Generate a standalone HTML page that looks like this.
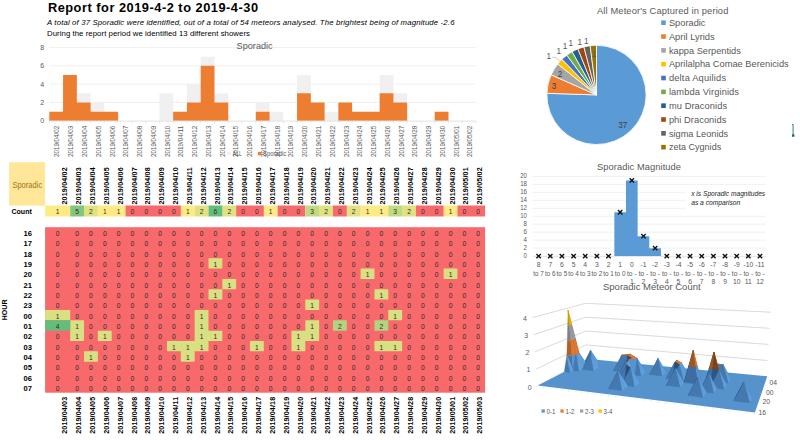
<!DOCTYPE html>
<html><head><meta charset="utf-8"><title>Report</title>
<style>
html,body{margin:0;padding:0;background:#fff;width:800px;height:440px;overflow:hidden}
svg{display:block;font-family:"Liberation Sans", sans-serif}
</style></head><body>
<svg width="800" height="440" viewBox="0 0 800 440">
<text x="47.90" y="11.80" font-size="12.8" fill="#000" font-weight="bold" textLength="210.10" lengthAdjust="spacing">Report for 2019-4-2 to 2019-4-30</text>
<text x="47.00" y="24.70" font-size="7.8" fill="#000" font-style="italic" textLength="407.50" lengthAdjust="spacing">A total of 37 Sporadic were identified, out of a total of 54 meteors analysed. The brightest being of magnitude -2.6</text>
<text x="47.00" y="35.60" font-size="7.8" fill="#000" textLength="203.00" lengthAdjust="spacing">During the report period we identified 13 different showers</text>
<line x1="49.30" y1="102.48" x2="476.00" y2="102.48" stroke="#ececec" stroke-width="0.8"/>
<line x1="49.30" y1="84.16" x2="476.00" y2="84.16" stroke="#ececec" stroke-width="0.8"/>
<line x1="49.30" y1="65.84" x2="476.00" y2="65.84" stroke="#ececec" stroke-width="0.8"/>
<line x1="49.30" y1="47.52" x2="476.00" y2="47.52" stroke="#ececec" stroke-width="0.8"/>
<path d="M49.30,111.64h13.76v9.16h-13.76zM63.06,75.00h13.76v45.80h-13.76zM76.83,93.32h13.76v27.48h-13.76zM90.59,102.48h13.76v18.32h-13.76zM104.36,111.64h13.76v9.16h-13.76zM159.42,93.32h13.76v27.48h-13.76zM173.18,111.64h13.76v9.16h-13.76zM186.95,84.16h13.76v36.64h-13.76zM200.71,56.68h13.76v64.12h-13.76zM214.47,93.32h13.76v27.48h-13.76zM255.77,102.48h13.76v18.32h-13.76zM269.53,111.64h13.76v9.16h-13.76zM297.06,75.00h13.76v45.80h-13.76zM310.83,102.48h13.76v18.32h-13.76zM324.59,111.64h13.76v9.16h-13.76zM338.35,102.48h13.76v18.32h-13.76zM352.12,111.64h13.76v9.16h-13.76zM365.88,111.64h13.76v9.16h-13.76zM379.65,75.00h13.76v45.80h-13.76zM393.41,93.32h13.76v27.48h-13.76zM434.71,111.64h13.76v9.16h-13.76z" fill="#f0f0f0"/>
<path d="M49.30,111.64h13.76v9.16h-13.76zM63.06,75.00h13.76v45.80h-13.76zM76.83,102.48h13.76v18.32h-13.76zM90.59,111.64h13.76v9.16h-13.76zM104.36,111.64h13.76v9.16h-13.76zM173.18,111.64h13.76v9.16h-13.76zM186.95,102.48h13.76v18.32h-13.76zM200.71,65.84h13.76v54.96h-13.76zM214.47,102.48h13.76v18.32h-13.76zM255.77,111.64h13.76v9.16h-13.76zM297.06,93.32h13.76v27.48h-13.76zM310.83,102.48h13.76v18.32h-13.76zM338.35,102.48h13.76v18.32h-13.76zM352.12,111.64h13.76v9.16h-13.76zM365.88,111.64h13.76v9.16h-13.76zM379.65,93.32h13.76v27.48h-13.76zM393.41,102.48h13.76v18.32h-13.76zM434.71,111.64h13.76v9.16h-13.76z" fill="#ed7d31"/>
<line x1="49.30" y1="121.10" x2="476.00" y2="121.10" stroke="#d9d9d9" stroke-width="0.8"/>
<line x1="476.00" y1="121.10" x2="476.00" y2="123.40" stroke="#d9d9d9" stroke-width="0.6"/>
<text x="44.20" y="123.30" font-size="7" fill="#595959" text-anchor="end">0</text>
<text x="44.20" y="104.98" font-size="7" fill="#595959" text-anchor="end">2</text>
<text x="44.20" y="86.66" font-size="7" fill="#595959" text-anchor="end">4</text>
<text x="44.20" y="68.34" font-size="7" fill="#595959" text-anchor="end">6</text>
<text x="44.20" y="50.02" font-size="7" fill="#595959" text-anchor="end">8</text>
<line x1="49.30" y1="121.10" x2="49.30" y2="123.40" stroke="#d9d9d9" stroke-width="0.6"/>
<text x="59.48" y="157.00" font-size="6.5" fill="#595959" textLength="31.20" lengthAdjust="spacingAndGlyphs" transform="rotate(-90 59.48 157.00)">2019/04/02</text>
<line x1="63.06" y1="121.10" x2="63.06" y2="123.40" stroke="#d9d9d9" stroke-width="0.6"/>
<text x="73.25" y="157.00" font-size="6.5" fill="#595959" textLength="31.20" lengthAdjust="spacingAndGlyphs" transform="rotate(-90 73.25 157.00)">2019/04/03</text>
<line x1="76.83" y1="121.10" x2="76.83" y2="123.40" stroke="#d9d9d9" stroke-width="0.6"/>
<text x="87.01" y="157.00" font-size="6.5" fill="#595959" textLength="31.20" lengthAdjust="spacingAndGlyphs" transform="rotate(-90 87.01 157.00)">2019/04/04</text>
<line x1="90.59" y1="121.10" x2="90.59" y2="123.40" stroke="#d9d9d9" stroke-width="0.6"/>
<text x="100.78" y="157.00" font-size="6.5" fill="#595959" textLength="31.20" lengthAdjust="spacingAndGlyphs" transform="rotate(-90 100.78 157.00)">2019/04/05</text>
<line x1="104.36" y1="121.10" x2="104.36" y2="123.40" stroke="#d9d9d9" stroke-width="0.6"/>
<text x="114.54" y="157.00" font-size="6.5" fill="#595959" textLength="31.20" lengthAdjust="spacingAndGlyphs" transform="rotate(-90 114.54 157.00)">2019/04/06</text>
<line x1="118.12" y1="121.10" x2="118.12" y2="123.40" stroke="#d9d9d9" stroke-width="0.6"/>
<text x="128.30" y="157.00" font-size="6.5" fill="#595959" textLength="31.20" lengthAdjust="spacingAndGlyphs" transform="rotate(-90 128.30 157.00)">2019/04/07</text>
<line x1="131.89" y1="121.10" x2="131.89" y2="123.40" stroke="#d9d9d9" stroke-width="0.6"/>
<text x="142.07" y="157.00" font-size="6.5" fill="#595959" textLength="31.20" lengthAdjust="spacingAndGlyphs" transform="rotate(-90 142.07 157.00)">2019/04/08</text>
<line x1="145.65" y1="121.10" x2="145.65" y2="123.40" stroke="#d9d9d9" stroke-width="0.6"/>
<text x="155.83" y="157.00" font-size="6.5" fill="#595959" textLength="31.20" lengthAdjust="spacingAndGlyphs" transform="rotate(-90 155.83 157.00)">2019/04/09</text>
<line x1="159.42" y1="121.10" x2="159.42" y2="123.40" stroke="#d9d9d9" stroke-width="0.6"/>
<text x="169.60" y="157.00" font-size="6.5" fill="#595959" textLength="31.20" lengthAdjust="spacingAndGlyphs" transform="rotate(-90 169.60 157.00)">2019/04/10</text>
<line x1="173.18" y1="121.10" x2="173.18" y2="123.40" stroke="#d9d9d9" stroke-width="0.6"/>
<text x="183.36" y="157.00" font-size="6.5" fill="#595959" textLength="31.20" lengthAdjust="spacingAndGlyphs" transform="rotate(-90 183.36 157.00)">2019/04/11</text>
<line x1="186.95" y1="121.10" x2="186.95" y2="123.40" stroke="#d9d9d9" stroke-width="0.6"/>
<text x="197.13" y="157.00" font-size="6.5" fill="#595959" textLength="31.20" lengthAdjust="spacingAndGlyphs" transform="rotate(-90 197.13 157.00)">2019/04/12</text>
<line x1="200.71" y1="121.10" x2="200.71" y2="123.40" stroke="#d9d9d9" stroke-width="0.6"/>
<text x="210.89" y="157.00" font-size="6.5" fill="#595959" textLength="31.20" lengthAdjust="spacingAndGlyphs" transform="rotate(-90 210.89 157.00)">2019/04/13</text>
<line x1="214.47" y1="121.10" x2="214.47" y2="123.40" stroke="#d9d9d9" stroke-width="0.6"/>
<text x="224.66" y="157.00" font-size="6.5" fill="#595959" textLength="31.20" lengthAdjust="spacingAndGlyphs" transform="rotate(-90 224.66 157.00)">2019/04/14</text>
<line x1="228.24" y1="121.10" x2="228.24" y2="123.40" stroke="#d9d9d9" stroke-width="0.6"/>
<text x="238.42" y="157.00" font-size="6.5" fill="#595959" textLength="31.20" lengthAdjust="spacingAndGlyphs" transform="rotate(-90 238.42 157.00)">2019/04/15</text>
<line x1="242.00" y1="121.10" x2="242.00" y2="123.40" stroke="#d9d9d9" stroke-width="0.6"/>
<text x="252.19" y="157.00" font-size="6.5" fill="#595959" textLength="31.20" lengthAdjust="spacingAndGlyphs" transform="rotate(-90 252.19 157.00)">2019/04/16</text>
<line x1="255.77" y1="121.10" x2="255.77" y2="123.40" stroke="#d9d9d9" stroke-width="0.6"/>
<text x="265.95" y="157.00" font-size="6.5" fill="#595959" textLength="31.20" lengthAdjust="spacingAndGlyphs" transform="rotate(-90 265.95 157.00)">2019/04/17</text>
<line x1="269.53" y1="121.10" x2="269.53" y2="123.40" stroke="#d9d9d9" stroke-width="0.6"/>
<text x="279.71" y="157.00" font-size="6.5" fill="#595959" textLength="31.20" lengthAdjust="spacingAndGlyphs" transform="rotate(-90 279.71 157.00)">2019/04/18</text>
<line x1="283.30" y1="121.10" x2="283.30" y2="123.40" stroke="#d9d9d9" stroke-width="0.6"/>
<text x="293.48" y="157.00" font-size="6.5" fill="#595959" textLength="31.20" lengthAdjust="spacingAndGlyphs" transform="rotate(-90 293.48 157.00)">2019/04/19</text>
<line x1="297.06" y1="121.10" x2="297.06" y2="123.40" stroke="#d9d9d9" stroke-width="0.6"/>
<text x="307.24" y="157.00" font-size="6.5" fill="#595959" textLength="31.20" lengthAdjust="spacingAndGlyphs" transform="rotate(-90 307.24 157.00)">2019/04/20</text>
<line x1="310.83" y1="121.10" x2="310.83" y2="123.40" stroke="#d9d9d9" stroke-width="0.6"/>
<text x="321.01" y="157.00" font-size="6.5" fill="#595959" textLength="31.20" lengthAdjust="spacingAndGlyphs" transform="rotate(-90 321.01 157.00)">2019/04/21</text>
<line x1="324.59" y1="121.10" x2="324.59" y2="123.40" stroke="#d9d9d9" stroke-width="0.6"/>
<text x="334.77" y="157.00" font-size="6.5" fill="#595959" textLength="31.20" lengthAdjust="spacingAndGlyphs" transform="rotate(-90 334.77 157.00)">2019/04/22</text>
<line x1="338.35" y1="121.10" x2="338.35" y2="123.40" stroke="#d9d9d9" stroke-width="0.6"/>
<text x="348.54" y="157.00" font-size="6.5" fill="#595959" textLength="31.20" lengthAdjust="spacingAndGlyphs" transform="rotate(-90 348.54 157.00)">2019/04/23</text>
<line x1="352.12" y1="121.10" x2="352.12" y2="123.40" stroke="#d9d9d9" stroke-width="0.6"/>
<text x="362.30" y="157.00" font-size="6.5" fill="#595959" textLength="31.20" lengthAdjust="spacingAndGlyphs" transform="rotate(-90 362.30 157.00)">2019/04/24</text>
<line x1="365.88" y1="121.10" x2="365.88" y2="123.40" stroke="#d9d9d9" stroke-width="0.6"/>
<text x="376.07" y="157.00" font-size="6.5" fill="#595959" textLength="31.20" lengthAdjust="spacingAndGlyphs" transform="rotate(-90 376.07 157.00)">2019/04/25</text>
<line x1="379.65" y1="121.10" x2="379.65" y2="123.40" stroke="#d9d9d9" stroke-width="0.6"/>
<text x="389.83" y="157.00" font-size="6.5" fill="#595959" textLength="31.20" lengthAdjust="spacingAndGlyphs" transform="rotate(-90 389.83 157.00)">2019/04/26</text>
<line x1="393.41" y1="121.10" x2="393.41" y2="123.40" stroke="#d9d9d9" stroke-width="0.6"/>
<text x="403.60" y="157.00" font-size="6.5" fill="#595959" textLength="31.20" lengthAdjust="spacingAndGlyphs" transform="rotate(-90 403.60 157.00)">2019/04/27</text>
<line x1="407.18" y1="121.10" x2="407.18" y2="123.40" stroke="#d9d9d9" stroke-width="0.6"/>
<text x="417.36" y="157.00" font-size="6.5" fill="#595959" textLength="31.20" lengthAdjust="spacingAndGlyphs" transform="rotate(-90 417.36 157.00)">2019/04/28</text>
<line x1="420.94" y1="121.10" x2="420.94" y2="123.40" stroke="#d9d9d9" stroke-width="0.6"/>
<text x="431.12" y="157.00" font-size="6.5" fill="#595959" textLength="31.20" lengthAdjust="spacingAndGlyphs" transform="rotate(-90 431.12 157.00)">2019/04/29</text>
<line x1="434.71" y1="121.10" x2="434.71" y2="123.40" stroke="#d9d9d9" stroke-width="0.6"/>
<text x="444.89" y="157.00" font-size="6.5" fill="#595959" textLength="31.20" lengthAdjust="spacingAndGlyphs" transform="rotate(-90 444.89 157.00)">2019/04/30</text>
<line x1="448.47" y1="121.10" x2="448.47" y2="123.40" stroke="#d9d9d9" stroke-width="0.6"/>
<text x="458.65" y="157.00" font-size="6.5" fill="#595959" textLength="31.20" lengthAdjust="spacingAndGlyphs" transform="rotate(-90 458.65 157.00)">2019/05/01</text>
<line x1="462.24" y1="121.10" x2="462.24" y2="123.40" stroke="#d9d9d9" stroke-width="0.6"/>
<text x="472.42" y="157.00" font-size="6.5" fill="#595959" textLength="31.20" lengthAdjust="spacingAndGlyphs" transform="rotate(-90 472.42 157.00)">2019/05/02</text>
<text x="236.60" y="48.60" font-size="9.8" fill="#595959" textLength="36.10" lengthAdjust="spacingAndGlyphs">Sporadic</text>
<rect x="227.20" y="151.90" width="3.30" height="3.30" fill="#f0f0f0"/>
<text x="232.80" y="156.00" font-size="6.5" fill="#595959" textLength="9.10" lengthAdjust="spacingAndGlyphs">ALL</text>
<rect x="257.90" y="151.90" width="3.60" height="3.40" fill="#ed7d31"/>
<text x="263.00" y="156.00" font-size="6.5" fill="#595959" textLength="23.20" lengthAdjust="spacingAndGlyphs">Sporadic</text>
<rect x="9.10" y="162.20" width="36.00" height="43.40" fill="#ffe699"/>
<text x="12.40" y="187.60" font-size="8.4" fill="#9c7614" textLength="29.80" lengthAdjust="spacingAndGlyphs">Sporadic</text>
<text x="67.40" y="204.60" font-size="7.1" fill="#000" font-weight="bold" textLength="37.30" lengthAdjust="spacing" transform="rotate(-90 67.40 204.60)">2019/04/02</text>
<text x="81.23" y="204.60" font-size="7.1" fill="#000" font-weight="bold" textLength="37.30" lengthAdjust="spacing" transform="rotate(-90 81.23 204.60)">2019/04/03</text>
<text x="95.06" y="204.60" font-size="7.1" fill="#000" font-weight="bold" textLength="37.30" lengthAdjust="spacing" transform="rotate(-90 95.06 204.60)">2019/04/04</text>
<text x="108.89" y="204.60" font-size="7.1" fill="#000" font-weight="bold" textLength="37.30" lengthAdjust="spacing" transform="rotate(-90 108.89 204.60)">2019/04/05</text>
<text x="122.72" y="204.60" font-size="7.1" fill="#000" font-weight="bold" textLength="37.30" lengthAdjust="spacing" transform="rotate(-90 122.72 204.60)">2019/04/06</text>
<text x="136.55" y="204.60" font-size="7.1" fill="#000" font-weight="bold" textLength="37.30" lengthAdjust="spacing" transform="rotate(-90 136.55 204.60)">2019/04/07</text>
<text x="150.38" y="204.60" font-size="7.1" fill="#000" font-weight="bold" textLength="37.30" lengthAdjust="spacing" transform="rotate(-90 150.38 204.60)">2019/04/08</text>
<text x="164.21" y="204.60" font-size="7.1" fill="#000" font-weight="bold" textLength="37.30" lengthAdjust="spacing" transform="rotate(-90 164.21 204.60)">2019/04/09</text>
<text x="178.04" y="204.60" font-size="7.1" fill="#000" font-weight="bold" textLength="37.30" lengthAdjust="spacing" transform="rotate(-90 178.04 204.60)">2019/04/10</text>
<text x="191.87" y="204.60" font-size="7.1" fill="#000" font-weight="bold" textLength="37.30" lengthAdjust="spacing" transform="rotate(-90 191.87 204.60)">2019/04/11</text>
<text x="205.70" y="204.60" font-size="7.1" fill="#000" font-weight="bold" textLength="37.30" lengthAdjust="spacing" transform="rotate(-90 205.70 204.60)">2019/04/12</text>
<text x="219.53" y="204.60" font-size="7.1" fill="#000" font-weight="bold" textLength="37.30" lengthAdjust="spacing" transform="rotate(-90 219.53 204.60)">2019/04/13</text>
<text x="233.36" y="204.60" font-size="7.1" fill="#000" font-weight="bold" textLength="37.30" lengthAdjust="spacing" transform="rotate(-90 233.36 204.60)">2019/04/14</text>
<text x="247.19" y="204.60" font-size="7.1" fill="#000" font-weight="bold" textLength="37.30" lengthAdjust="spacing" transform="rotate(-90 247.19 204.60)">2019/04/15</text>
<text x="261.02" y="204.60" font-size="7.1" fill="#000" font-weight="bold" textLength="37.30" lengthAdjust="spacing" transform="rotate(-90 261.02 204.60)">2019/04/16</text>
<text x="274.85" y="204.60" font-size="7.1" fill="#000" font-weight="bold" textLength="37.30" lengthAdjust="spacing" transform="rotate(-90 274.85 204.60)">2019/04/17</text>
<text x="288.68" y="204.60" font-size="7.1" fill="#000" font-weight="bold" textLength="37.30" lengthAdjust="spacing" transform="rotate(-90 288.68 204.60)">2019/04/18</text>
<text x="302.51" y="204.60" font-size="7.1" fill="#000" font-weight="bold" textLength="37.30" lengthAdjust="spacing" transform="rotate(-90 302.51 204.60)">2019/04/19</text>
<text x="316.34" y="204.60" font-size="7.1" fill="#000" font-weight="bold" textLength="37.30" lengthAdjust="spacing" transform="rotate(-90 316.34 204.60)">2019/04/20</text>
<text x="330.17" y="204.60" font-size="7.1" fill="#000" font-weight="bold" textLength="37.30" lengthAdjust="spacing" transform="rotate(-90 330.17 204.60)">2019/04/21</text>
<text x="344.00" y="204.60" font-size="7.1" fill="#000" font-weight="bold" textLength="37.30" lengthAdjust="spacing" transform="rotate(-90 344.00 204.60)">2019/04/22</text>
<text x="357.83" y="204.60" font-size="7.1" fill="#000" font-weight="bold" textLength="37.30" lengthAdjust="spacing" transform="rotate(-90 357.83 204.60)">2019/04/23</text>
<text x="371.66" y="204.60" font-size="7.1" fill="#000" font-weight="bold" textLength="37.30" lengthAdjust="spacing" transform="rotate(-90 371.66 204.60)">2019/04/24</text>
<text x="385.49" y="204.60" font-size="7.1" fill="#000" font-weight="bold" textLength="37.30" lengthAdjust="spacing" transform="rotate(-90 385.49 204.60)">2019/04/25</text>
<text x="399.32" y="204.60" font-size="7.1" fill="#000" font-weight="bold" textLength="37.30" lengthAdjust="spacing" transform="rotate(-90 399.32 204.60)">2019/04/26</text>
<text x="413.15" y="204.60" font-size="7.1" fill="#000" font-weight="bold" textLength="37.30" lengthAdjust="spacing" transform="rotate(-90 413.15 204.60)">2019/04/27</text>
<text x="426.98" y="204.60" font-size="7.1" fill="#000" font-weight="bold" textLength="37.30" lengthAdjust="spacing" transform="rotate(-90 426.98 204.60)">2019/04/28</text>
<text x="440.81" y="204.60" font-size="7.1" fill="#000" font-weight="bold" textLength="37.30" lengthAdjust="spacing" transform="rotate(-90 440.81 204.60)">2019/04/29</text>
<text x="454.64" y="204.60" font-size="7.1" fill="#000" font-weight="bold" textLength="37.30" lengthAdjust="spacing" transform="rotate(-90 454.64 204.60)">2019/04/30</text>
<text x="468.47" y="204.60" font-size="7.1" fill="#000" font-weight="bold" textLength="37.30" lengthAdjust="spacing" transform="rotate(-90 468.47 204.60)">2019/05/01</text>
<text x="482.30" y="204.60" font-size="7.1" fill="#000" font-weight="bold" textLength="37.30" lengthAdjust="spacing" transform="rotate(-90 482.30 204.60)">2019/05/02</text>
<text x="11.50" y="214.20" font-size="7.6" fill="#000" font-weight="bold" textLength="20.30" lengthAdjust="spacingAndGlyphs">Count</text>
<path d="M45.10,205.50h25.10v11.00h-25.10zM97.86,205.50h13.83v11.00h-13.83zM111.69,205.50h13.83v11.00h-13.83zM180.84,205.50h13.83v11.00h-13.83zM263.82,205.50h13.83v11.00h-13.83zM360.63,205.50h13.83v11.00h-13.83zM374.46,205.50h13.83v11.00h-13.83zM443.61,205.50h13.83v11.00h-13.83z" fill="#ffeb84"/>
<path d="M70.20,205.50h13.83v11.00h-13.83z" fill="#82c77d"/>
<path d="M84.03,205.50h13.83v11.00h-13.83zM194.67,205.50h13.83v11.00h-13.83zM222.33,205.50h13.83v11.00h-13.83zM319.14,205.50h13.83v11.00h-13.83zM346.80,205.50h13.83v11.00h-13.83zM402.12,205.50h13.83v11.00h-13.83z" fill="#e0e282"/>
<path d="M125.52,205.50h13.83v11.00h-13.83zM139.35,205.50h13.83v11.00h-13.83zM153.18,205.50h13.83v11.00h-13.83zM167.01,205.50h13.83v11.00h-13.83zM236.16,205.50h13.83v11.00h-13.83zM249.99,205.50h13.83v11.00h-13.83zM277.65,205.50h13.83v11.00h-13.83zM291.48,205.50h13.83v11.00h-13.83zM332.97,205.50h13.83v11.00h-13.83zM415.95,205.50h13.83v11.00h-13.83zM429.78,205.50h13.83v11.00h-13.83zM457.44,205.50h13.83v11.00h-13.83zM471.27,205.50h13.83v11.00h-13.83z" fill="#f8696b"/>
<path d="M208.50,205.50h13.83v11.00h-13.83z" fill="#63be7b"/>
<path d="M305.31,205.50h13.83v11.00h-13.83zM388.29,205.50h13.83v11.00h-13.83z" fill="#c1d980"/>
<text x="57.65" y="213.50" font-size="6.7" fill="#2b2b2b" text-anchor="middle">1</text>
<text x="77.12" y="213.50" font-size="6.7" fill="#2b2b2b" text-anchor="middle">5</text>
<text x="90.94" y="213.50" font-size="6.7" fill="#2b2b2b" text-anchor="middle">2</text>
<text x="104.78" y="213.50" font-size="6.7" fill="#2b2b2b" text-anchor="middle">1</text>
<text x="118.61" y="213.50" font-size="6.7" fill="#2b2b2b" text-anchor="middle">1</text>
<text x="132.44" y="213.50" font-size="6.7" fill="#2b2b2b" text-anchor="middle">0</text>
<text x="146.27" y="213.50" font-size="6.7" fill="#2b2b2b" text-anchor="middle">0</text>
<text x="160.09" y="213.50" font-size="6.7" fill="#2b2b2b" text-anchor="middle">0</text>
<text x="173.93" y="213.50" font-size="6.7" fill="#2b2b2b" text-anchor="middle">0</text>
<text x="187.75" y="213.50" font-size="6.7" fill="#2b2b2b" text-anchor="middle">1</text>
<text x="201.59" y="213.50" font-size="6.7" fill="#2b2b2b" text-anchor="middle">2</text>
<text x="215.41" y="213.50" font-size="6.7" fill="#2b2b2b" text-anchor="middle">6</text>
<text x="229.25" y="213.50" font-size="6.7" fill="#2b2b2b" text-anchor="middle">2</text>
<text x="243.08" y="213.50" font-size="6.7" fill="#2b2b2b" text-anchor="middle">0</text>
<text x="256.90" y="213.50" font-size="6.7" fill="#2b2b2b" text-anchor="middle">0</text>
<text x="270.74" y="213.50" font-size="6.7" fill="#2b2b2b" text-anchor="middle">1</text>
<text x="284.56" y="213.50" font-size="6.7" fill="#2b2b2b" text-anchor="middle">0</text>
<text x="298.39" y="213.50" font-size="6.7" fill="#2b2b2b" text-anchor="middle">0</text>
<text x="312.23" y="213.50" font-size="6.7" fill="#2b2b2b" text-anchor="middle">3</text>
<text x="326.05" y="213.50" font-size="6.7" fill="#2b2b2b" text-anchor="middle">2</text>
<text x="339.88" y="213.50" font-size="6.7" fill="#2b2b2b" text-anchor="middle">0</text>
<text x="353.72" y="213.50" font-size="6.7" fill="#2b2b2b" text-anchor="middle">2</text>
<text x="367.54" y="213.50" font-size="6.7" fill="#2b2b2b" text-anchor="middle">1</text>
<text x="381.38" y="213.50" font-size="6.7" fill="#2b2b2b" text-anchor="middle">1</text>
<text x="395.20" y="213.50" font-size="6.7" fill="#2b2b2b" text-anchor="middle">3</text>
<text x="409.03" y="213.50" font-size="6.7" fill="#2b2b2b" text-anchor="middle">2</text>
<text x="422.87" y="213.50" font-size="6.7" fill="#2b2b2b" text-anchor="middle">0</text>
<text x="436.69" y="213.50" font-size="6.7" fill="#2b2b2b" text-anchor="middle">0</text>
<text x="450.52" y="213.50" font-size="6.7" fill="#2b2b2b" text-anchor="middle">1</text>
<text x="464.36" y="213.50" font-size="6.7" fill="#2b2b2b" text-anchor="middle">0</text>
<text x="478.18" y="213.50" font-size="6.7" fill="#2b2b2b" text-anchor="middle">0</text>
<rect x="45.10" y="227.20" width="440.00" height="165.50" fill="#f8696b"/>
<path d="M208.50,258.23h13.83v10.34h-13.83zM360.63,268.57h13.83v10.34h-13.83zM443.61,268.57h13.83v10.34h-13.83zM222.33,278.92h13.83v10.34h-13.83zM208.50,289.26h13.83v10.34h-13.83zM374.46,289.26h13.83v10.34h-13.83zM305.31,299.61h13.83v10.34h-13.83zM45.10,309.95h25.10v10.34h-25.10zM194.67,309.95h13.83v10.34h-13.83zM388.29,309.95h13.83v10.34h-13.83zM70.20,320.29h13.83v10.34h-13.83zM194.67,320.29h13.83v10.34h-13.83zM305.31,320.29h13.83v10.34h-13.83zM70.20,330.64h13.83v10.34h-13.83zM97.86,330.64h13.83v10.34h-13.83zM194.67,330.64h13.83v10.34h-13.83zM208.50,330.64h13.83v10.34h-13.83zM291.48,330.64h13.83v10.34h-13.83zM305.31,330.64h13.83v10.34h-13.83zM167.01,340.98h13.83v10.34h-13.83zM180.84,340.98h13.83v10.34h-13.83zM194.67,340.98h13.83v10.34h-13.83zM249.99,340.98h13.83v10.34h-13.83zM291.48,340.98h13.83v10.34h-13.83zM374.46,340.98h13.83v10.34h-13.83zM388.29,340.98h13.83v10.34h-13.83zM84.03,351.32h13.83v10.34h-13.83zM180.84,351.32h13.83v10.34h-13.83z" fill="#d8e082"/>
<path d="M45.10,320.29h25.10v10.34h-25.10z" fill="#63be7b"/>
<path d="M332.97,320.29h13.83v10.34h-13.83zM374.46,320.29h13.83v10.34h-13.83z" fill="#b1d480"/>
<text x="57.65" y="235.87" font-size="6.7" fill="#2b2b2b" text-anchor="middle">0</text>
<text x="77.12" y="235.87" font-size="6.7" fill="#2b2b2b" text-anchor="middle">0</text>
<text x="90.94" y="235.87" font-size="6.7" fill="#2b2b2b" text-anchor="middle">0</text>
<text x="104.78" y="235.87" font-size="6.7" fill="#2b2b2b" text-anchor="middle">0</text>
<text x="118.61" y="235.87" font-size="6.7" fill="#2b2b2b" text-anchor="middle">0</text>
<text x="132.44" y="235.87" font-size="6.7" fill="#2b2b2b" text-anchor="middle">0</text>
<text x="146.27" y="235.87" font-size="6.7" fill="#2b2b2b" text-anchor="middle">0</text>
<text x="160.09" y="235.87" font-size="6.7" fill="#2b2b2b" text-anchor="middle">0</text>
<text x="173.93" y="235.87" font-size="6.7" fill="#2b2b2b" text-anchor="middle">0</text>
<text x="187.75" y="235.87" font-size="6.7" fill="#2b2b2b" text-anchor="middle">0</text>
<text x="201.59" y="235.87" font-size="6.7" fill="#2b2b2b" text-anchor="middle">0</text>
<text x="215.41" y="235.87" font-size="6.7" fill="#2b2b2b" text-anchor="middle">0</text>
<text x="229.25" y="235.87" font-size="6.7" fill="#2b2b2b" text-anchor="middle">0</text>
<text x="243.08" y="235.87" font-size="6.7" fill="#2b2b2b" text-anchor="middle">0</text>
<text x="256.90" y="235.87" font-size="6.7" fill="#2b2b2b" text-anchor="middle">0</text>
<text x="270.74" y="235.87" font-size="6.7" fill="#2b2b2b" text-anchor="middle">0</text>
<text x="284.56" y="235.87" font-size="6.7" fill="#2b2b2b" text-anchor="middle">0</text>
<text x="298.39" y="235.87" font-size="6.7" fill="#2b2b2b" text-anchor="middle">0</text>
<text x="312.23" y="235.87" font-size="6.7" fill="#2b2b2b" text-anchor="middle">0</text>
<text x="326.05" y="235.87" font-size="6.7" fill="#2b2b2b" text-anchor="middle">0</text>
<text x="339.88" y="235.87" font-size="6.7" fill="#2b2b2b" text-anchor="middle">0</text>
<text x="353.72" y="235.87" font-size="6.7" fill="#2b2b2b" text-anchor="middle">0</text>
<text x="367.54" y="235.87" font-size="6.7" fill="#2b2b2b" text-anchor="middle">0</text>
<text x="381.38" y="235.87" font-size="6.7" fill="#2b2b2b" text-anchor="middle">0</text>
<text x="395.20" y="235.87" font-size="6.7" fill="#2b2b2b" text-anchor="middle">0</text>
<text x="409.03" y="235.87" font-size="6.7" fill="#2b2b2b" text-anchor="middle">0</text>
<text x="422.87" y="235.87" font-size="6.7" fill="#2b2b2b" text-anchor="middle">0</text>
<text x="436.69" y="235.87" font-size="6.7" fill="#2b2b2b" text-anchor="middle">0</text>
<text x="450.52" y="235.87" font-size="6.7" fill="#2b2b2b" text-anchor="middle">0</text>
<text x="464.36" y="235.87" font-size="6.7" fill="#2b2b2b" text-anchor="middle">0</text>
<text x="478.18" y="235.87" font-size="6.7" fill="#2b2b2b" text-anchor="middle">0</text>
<text x="31.90" y="235.97" font-size="7.6" fill="#000" text-anchor="end" font-weight="bold">16</text>
<text x="57.65" y="246.22" font-size="6.7" fill="#2b2b2b" text-anchor="middle">0</text>
<text x="77.12" y="246.22" font-size="6.7" fill="#2b2b2b" text-anchor="middle">0</text>
<text x="90.94" y="246.22" font-size="6.7" fill="#2b2b2b" text-anchor="middle">0</text>
<text x="104.78" y="246.22" font-size="6.7" fill="#2b2b2b" text-anchor="middle">0</text>
<text x="118.61" y="246.22" font-size="6.7" fill="#2b2b2b" text-anchor="middle">0</text>
<text x="132.44" y="246.22" font-size="6.7" fill="#2b2b2b" text-anchor="middle">0</text>
<text x="146.27" y="246.22" font-size="6.7" fill="#2b2b2b" text-anchor="middle">0</text>
<text x="160.09" y="246.22" font-size="6.7" fill="#2b2b2b" text-anchor="middle">0</text>
<text x="173.93" y="246.22" font-size="6.7" fill="#2b2b2b" text-anchor="middle">0</text>
<text x="187.75" y="246.22" font-size="6.7" fill="#2b2b2b" text-anchor="middle">0</text>
<text x="201.59" y="246.22" font-size="6.7" fill="#2b2b2b" text-anchor="middle">0</text>
<text x="215.41" y="246.22" font-size="6.7" fill="#2b2b2b" text-anchor="middle">0</text>
<text x="229.25" y="246.22" font-size="6.7" fill="#2b2b2b" text-anchor="middle">0</text>
<text x="243.08" y="246.22" font-size="6.7" fill="#2b2b2b" text-anchor="middle">0</text>
<text x="256.90" y="246.22" font-size="6.7" fill="#2b2b2b" text-anchor="middle">0</text>
<text x="270.74" y="246.22" font-size="6.7" fill="#2b2b2b" text-anchor="middle">0</text>
<text x="284.56" y="246.22" font-size="6.7" fill="#2b2b2b" text-anchor="middle">0</text>
<text x="298.39" y="246.22" font-size="6.7" fill="#2b2b2b" text-anchor="middle">0</text>
<text x="312.23" y="246.22" font-size="6.7" fill="#2b2b2b" text-anchor="middle">0</text>
<text x="326.05" y="246.22" font-size="6.7" fill="#2b2b2b" text-anchor="middle">0</text>
<text x="339.88" y="246.22" font-size="6.7" fill="#2b2b2b" text-anchor="middle">0</text>
<text x="353.72" y="246.22" font-size="6.7" fill="#2b2b2b" text-anchor="middle">0</text>
<text x="367.54" y="246.22" font-size="6.7" fill="#2b2b2b" text-anchor="middle">0</text>
<text x="381.38" y="246.22" font-size="6.7" fill="#2b2b2b" text-anchor="middle">0</text>
<text x="395.20" y="246.22" font-size="6.7" fill="#2b2b2b" text-anchor="middle">0</text>
<text x="409.03" y="246.22" font-size="6.7" fill="#2b2b2b" text-anchor="middle">0</text>
<text x="422.87" y="246.22" font-size="6.7" fill="#2b2b2b" text-anchor="middle">0</text>
<text x="436.69" y="246.22" font-size="6.7" fill="#2b2b2b" text-anchor="middle">0</text>
<text x="450.52" y="246.22" font-size="6.7" fill="#2b2b2b" text-anchor="middle">0</text>
<text x="464.36" y="246.22" font-size="6.7" fill="#2b2b2b" text-anchor="middle">0</text>
<text x="478.18" y="246.22" font-size="6.7" fill="#2b2b2b" text-anchor="middle">0</text>
<text x="31.90" y="246.32" font-size="7.6" fill="#000" text-anchor="end" font-weight="bold">17</text>
<text x="57.65" y="256.56" font-size="6.7" fill="#2b2b2b" text-anchor="middle">0</text>
<text x="77.12" y="256.56" font-size="6.7" fill="#2b2b2b" text-anchor="middle">0</text>
<text x="90.94" y="256.56" font-size="6.7" fill="#2b2b2b" text-anchor="middle">0</text>
<text x="104.78" y="256.56" font-size="6.7" fill="#2b2b2b" text-anchor="middle">0</text>
<text x="118.61" y="256.56" font-size="6.7" fill="#2b2b2b" text-anchor="middle">0</text>
<text x="132.44" y="256.56" font-size="6.7" fill="#2b2b2b" text-anchor="middle">0</text>
<text x="146.27" y="256.56" font-size="6.7" fill="#2b2b2b" text-anchor="middle">0</text>
<text x="160.09" y="256.56" font-size="6.7" fill="#2b2b2b" text-anchor="middle">0</text>
<text x="173.93" y="256.56" font-size="6.7" fill="#2b2b2b" text-anchor="middle">0</text>
<text x="187.75" y="256.56" font-size="6.7" fill="#2b2b2b" text-anchor="middle">0</text>
<text x="201.59" y="256.56" font-size="6.7" fill="#2b2b2b" text-anchor="middle">0</text>
<text x="215.41" y="256.56" font-size="6.7" fill="#2b2b2b" text-anchor="middle">0</text>
<text x="229.25" y="256.56" font-size="6.7" fill="#2b2b2b" text-anchor="middle">0</text>
<text x="243.08" y="256.56" font-size="6.7" fill="#2b2b2b" text-anchor="middle">0</text>
<text x="256.90" y="256.56" font-size="6.7" fill="#2b2b2b" text-anchor="middle">0</text>
<text x="270.74" y="256.56" font-size="6.7" fill="#2b2b2b" text-anchor="middle">0</text>
<text x="284.56" y="256.56" font-size="6.7" fill="#2b2b2b" text-anchor="middle">0</text>
<text x="298.39" y="256.56" font-size="6.7" fill="#2b2b2b" text-anchor="middle">0</text>
<text x="312.23" y="256.56" font-size="6.7" fill="#2b2b2b" text-anchor="middle">0</text>
<text x="326.05" y="256.56" font-size="6.7" fill="#2b2b2b" text-anchor="middle">0</text>
<text x="339.88" y="256.56" font-size="6.7" fill="#2b2b2b" text-anchor="middle">0</text>
<text x="353.72" y="256.56" font-size="6.7" fill="#2b2b2b" text-anchor="middle">0</text>
<text x="367.54" y="256.56" font-size="6.7" fill="#2b2b2b" text-anchor="middle">0</text>
<text x="381.38" y="256.56" font-size="6.7" fill="#2b2b2b" text-anchor="middle">0</text>
<text x="395.20" y="256.56" font-size="6.7" fill="#2b2b2b" text-anchor="middle">0</text>
<text x="409.03" y="256.56" font-size="6.7" fill="#2b2b2b" text-anchor="middle">0</text>
<text x="422.87" y="256.56" font-size="6.7" fill="#2b2b2b" text-anchor="middle">0</text>
<text x="436.69" y="256.56" font-size="6.7" fill="#2b2b2b" text-anchor="middle">0</text>
<text x="450.52" y="256.56" font-size="6.7" fill="#2b2b2b" text-anchor="middle">0</text>
<text x="464.36" y="256.56" font-size="6.7" fill="#2b2b2b" text-anchor="middle">0</text>
<text x="478.18" y="256.56" font-size="6.7" fill="#2b2b2b" text-anchor="middle">0</text>
<text x="31.90" y="256.66" font-size="7.6" fill="#000" text-anchor="end" font-weight="bold">18</text>
<text x="57.65" y="266.90" font-size="6.7" fill="#2b2b2b" text-anchor="middle">0</text>
<text x="77.12" y="266.90" font-size="6.7" fill="#2b2b2b" text-anchor="middle">0</text>
<text x="90.94" y="266.90" font-size="6.7" fill="#2b2b2b" text-anchor="middle">0</text>
<text x="104.78" y="266.90" font-size="6.7" fill="#2b2b2b" text-anchor="middle">0</text>
<text x="118.61" y="266.90" font-size="6.7" fill="#2b2b2b" text-anchor="middle">0</text>
<text x="132.44" y="266.90" font-size="6.7" fill="#2b2b2b" text-anchor="middle">0</text>
<text x="146.27" y="266.90" font-size="6.7" fill="#2b2b2b" text-anchor="middle">0</text>
<text x="160.09" y="266.90" font-size="6.7" fill="#2b2b2b" text-anchor="middle">0</text>
<text x="173.93" y="266.90" font-size="6.7" fill="#2b2b2b" text-anchor="middle">0</text>
<text x="187.75" y="266.90" font-size="6.7" fill="#2b2b2b" text-anchor="middle">0</text>
<text x="201.59" y="266.90" font-size="6.7" fill="#2b2b2b" text-anchor="middle">0</text>
<text x="215.41" y="266.90" font-size="6.7" fill="#2b2b2b" text-anchor="middle">1</text>
<text x="229.25" y="266.90" font-size="6.7" fill="#2b2b2b" text-anchor="middle">0</text>
<text x="243.08" y="266.90" font-size="6.7" fill="#2b2b2b" text-anchor="middle">0</text>
<text x="256.90" y="266.90" font-size="6.7" fill="#2b2b2b" text-anchor="middle">0</text>
<text x="270.74" y="266.90" font-size="6.7" fill="#2b2b2b" text-anchor="middle">0</text>
<text x="284.56" y="266.90" font-size="6.7" fill="#2b2b2b" text-anchor="middle">0</text>
<text x="298.39" y="266.90" font-size="6.7" fill="#2b2b2b" text-anchor="middle">0</text>
<text x="312.23" y="266.90" font-size="6.7" fill="#2b2b2b" text-anchor="middle">0</text>
<text x="326.05" y="266.90" font-size="6.7" fill="#2b2b2b" text-anchor="middle">0</text>
<text x="339.88" y="266.90" font-size="6.7" fill="#2b2b2b" text-anchor="middle">0</text>
<text x="353.72" y="266.90" font-size="6.7" fill="#2b2b2b" text-anchor="middle">0</text>
<text x="367.54" y="266.90" font-size="6.7" fill="#2b2b2b" text-anchor="middle">0</text>
<text x="381.38" y="266.90" font-size="6.7" fill="#2b2b2b" text-anchor="middle">0</text>
<text x="395.20" y="266.90" font-size="6.7" fill="#2b2b2b" text-anchor="middle">0</text>
<text x="409.03" y="266.90" font-size="6.7" fill="#2b2b2b" text-anchor="middle">0</text>
<text x="422.87" y="266.90" font-size="6.7" fill="#2b2b2b" text-anchor="middle">0</text>
<text x="436.69" y="266.90" font-size="6.7" fill="#2b2b2b" text-anchor="middle">0</text>
<text x="450.52" y="266.90" font-size="6.7" fill="#2b2b2b" text-anchor="middle">0</text>
<text x="464.36" y="266.90" font-size="6.7" fill="#2b2b2b" text-anchor="middle">0</text>
<text x="478.18" y="266.90" font-size="6.7" fill="#2b2b2b" text-anchor="middle">0</text>
<text x="31.90" y="267.00" font-size="7.6" fill="#000" text-anchor="end" font-weight="bold">19</text>
<text x="57.65" y="277.25" font-size="6.7" fill="#2b2b2b" text-anchor="middle">0</text>
<text x="77.12" y="277.25" font-size="6.7" fill="#2b2b2b" text-anchor="middle">0</text>
<text x="90.94" y="277.25" font-size="6.7" fill="#2b2b2b" text-anchor="middle">0</text>
<text x="104.78" y="277.25" font-size="6.7" fill="#2b2b2b" text-anchor="middle">0</text>
<text x="118.61" y="277.25" font-size="6.7" fill="#2b2b2b" text-anchor="middle">0</text>
<text x="132.44" y="277.25" font-size="6.7" fill="#2b2b2b" text-anchor="middle">0</text>
<text x="146.27" y="277.25" font-size="6.7" fill="#2b2b2b" text-anchor="middle">0</text>
<text x="160.09" y="277.25" font-size="6.7" fill="#2b2b2b" text-anchor="middle">0</text>
<text x="173.93" y="277.25" font-size="6.7" fill="#2b2b2b" text-anchor="middle">0</text>
<text x="187.75" y="277.25" font-size="6.7" fill="#2b2b2b" text-anchor="middle">0</text>
<text x="201.59" y="277.25" font-size="6.7" fill="#2b2b2b" text-anchor="middle">0</text>
<text x="215.41" y="277.25" font-size="6.7" fill="#2b2b2b" text-anchor="middle">0</text>
<text x="229.25" y="277.25" font-size="6.7" fill="#2b2b2b" text-anchor="middle">0</text>
<text x="243.08" y="277.25" font-size="6.7" fill="#2b2b2b" text-anchor="middle">0</text>
<text x="256.90" y="277.25" font-size="6.7" fill="#2b2b2b" text-anchor="middle">0</text>
<text x="270.74" y="277.25" font-size="6.7" fill="#2b2b2b" text-anchor="middle">0</text>
<text x="284.56" y="277.25" font-size="6.7" fill="#2b2b2b" text-anchor="middle">0</text>
<text x="298.39" y="277.25" font-size="6.7" fill="#2b2b2b" text-anchor="middle">0</text>
<text x="312.23" y="277.25" font-size="6.7" fill="#2b2b2b" text-anchor="middle">0</text>
<text x="326.05" y="277.25" font-size="6.7" fill="#2b2b2b" text-anchor="middle">0</text>
<text x="339.88" y="277.25" font-size="6.7" fill="#2b2b2b" text-anchor="middle">0</text>
<text x="353.72" y="277.25" font-size="6.7" fill="#2b2b2b" text-anchor="middle">0</text>
<text x="367.54" y="277.25" font-size="6.7" fill="#2b2b2b" text-anchor="middle">1</text>
<text x="381.38" y="277.25" font-size="6.7" fill="#2b2b2b" text-anchor="middle">0</text>
<text x="395.20" y="277.25" font-size="6.7" fill="#2b2b2b" text-anchor="middle">0</text>
<text x="409.03" y="277.25" font-size="6.7" fill="#2b2b2b" text-anchor="middle">0</text>
<text x="422.87" y="277.25" font-size="6.7" fill="#2b2b2b" text-anchor="middle">0</text>
<text x="436.69" y="277.25" font-size="6.7" fill="#2b2b2b" text-anchor="middle">0</text>
<text x="450.52" y="277.25" font-size="6.7" fill="#2b2b2b" text-anchor="middle">1</text>
<text x="464.36" y="277.25" font-size="6.7" fill="#2b2b2b" text-anchor="middle">0</text>
<text x="478.18" y="277.25" font-size="6.7" fill="#2b2b2b" text-anchor="middle">0</text>
<text x="31.90" y="277.35" font-size="7.6" fill="#000" text-anchor="end" font-weight="bold">20</text>
<text x="57.65" y="287.59" font-size="6.7" fill="#2b2b2b" text-anchor="middle">0</text>
<text x="77.12" y="287.59" font-size="6.7" fill="#2b2b2b" text-anchor="middle">0</text>
<text x="90.94" y="287.59" font-size="6.7" fill="#2b2b2b" text-anchor="middle">0</text>
<text x="104.78" y="287.59" font-size="6.7" fill="#2b2b2b" text-anchor="middle">0</text>
<text x="118.61" y="287.59" font-size="6.7" fill="#2b2b2b" text-anchor="middle">0</text>
<text x="132.44" y="287.59" font-size="6.7" fill="#2b2b2b" text-anchor="middle">0</text>
<text x="146.27" y="287.59" font-size="6.7" fill="#2b2b2b" text-anchor="middle">0</text>
<text x="160.09" y="287.59" font-size="6.7" fill="#2b2b2b" text-anchor="middle">0</text>
<text x="173.93" y="287.59" font-size="6.7" fill="#2b2b2b" text-anchor="middle">0</text>
<text x="187.75" y="287.59" font-size="6.7" fill="#2b2b2b" text-anchor="middle">0</text>
<text x="201.59" y="287.59" font-size="6.7" fill="#2b2b2b" text-anchor="middle">0</text>
<text x="215.41" y="287.59" font-size="6.7" fill="#2b2b2b" text-anchor="middle">0</text>
<text x="229.25" y="287.59" font-size="6.7" fill="#2b2b2b" text-anchor="middle">1</text>
<text x="243.08" y="287.59" font-size="6.7" fill="#2b2b2b" text-anchor="middle">0</text>
<text x="256.90" y="287.59" font-size="6.7" fill="#2b2b2b" text-anchor="middle">0</text>
<text x="270.74" y="287.59" font-size="6.7" fill="#2b2b2b" text-anchor="middle">0</text>
<text x="284.56" y="287.59" font-size="6.7" fill="#2b2b2b" text-anchor="middle">0</text>
<text x="298.39" y="287.59" font-size="6.7" fill="#2b2b2b" text-anchor="middle">0</text>
<text x="312.23" y="287.59" font-size="6.7" fill="#2b2b2b" text-anchor="middle">0</text>
<text x="326.05" y="287.59" font-size="6.7" fill="#2b2b2b" text-anchor="middle">0</text>
<text x="339.88" y="287.59" font-size="6.7" fill="#2b2b2b" text-anchor="middle">0</text>
<text x="353.72" y="287.59" font-size="6.7" fill="#2b2b2b" text-anchor="middle">0</text>
<text x="367.54" y="287.59" font-size="6.7" fill="#2b2b2b" text-anchor="middle">0</text>
<text x="381.38" y="287.59" font-size="6.7" fill="#2b2b2b" text-anchor="middle">0</text>
<text x="395.20" y="287.59" font-size="6.7" fill="#2b2b2b" text-anchor="middle">0</text>
<text x="409.03" y="287.59" font-size="6.7" fill="#2b2b2b" text-anchor="middle">0</text>
<text x="422.87" y="287.59" font-size="6.7" fill="#2b2b2b" text-anchor="middle">0</text>
<text x="436.69" y="287.59" font-size="6.7" fill="#2b2b2b" text-anchor="middle">0</text>
<text x="450.52" y="287.59" font-size="6.7" fill="#2b2b2b" text-anchor="middle">0</text>
<text x="464.36" y="287.59" font-size="6.7" fill="#2b2b2b" text-anchor="middle">0</text>
<text x="478.18" y="287.59" font-size="6.7" fill="#2b2b2b" text-anchor="middle">0</text>
<text x="31.90" y="287.69" font-size="7.6" fill="#000" text-anchor="end" font-weight="bold">21</text>
<text x="57.65" y="297.93" font-size="6.7" fill="#2b2b2b" text-anchor="middle">0</text>
<text x="77.12" y="297.93" font-size="6.7" fill="#2b2b2b" text-anchor="middle">0</text>
<text x="90.94" y="297.93" font-size="6.7" fill="#2b2b2b" text-anchor="middle">0</text>
<text x="104.78" y="297.93" font-size="6.7" fill="#2b2b2b" text-anchor="middle">0</text>
<text x="118.61" y="297.93" font-size="6.7" fill="#2b2b2b" text-anchor="middle">0</text>
<text x="132.44" y="297.93" font-size="6.7" fill="#2b2b2b" text-anchor="middle">0</text>
<text x="146.27" y="297.93" font-size="6.7" fill="#2b2b2b" text-anchor="middle">0</text>
<text x="160.09" y="297.93" font-size="6.7" fill="#2b2b2b" text-anchor="middle">0</text>
<text x="173.93" y="297.93" font-size="6.7" fill="#2b2b2b" text-anchor="middle">0</text>
<text x="187.75" y="297.93" font-size="6.7" fill="#2b2b2b" text-anchor="middle">0</text>
<text x="201.59" y="297.93" font-size="6.7" fill="#2b2b2b" text-anchor="middle">0</text>
<text x="215.41" y="297.93" font-size="6.7" fill="#2b2b2b" text-anchor="middle">1</text>
<text x="229.25" y="297.93" font-size="6.7" fill="#2b2b2b" text-anchor="middle">0</text>
<text x="243.08" y="297.93" font-size="6.7" fill="#2b2b2b" text-anchor="middle">0</text>
<text x="256.90" y="297.93" font-size="6.7" fill="#2b2b2b" text-anchor="middle">0</text>
<text x="270.74" y="297.93" font-size="6.7" fill="#2b2b2b" text-anchor="middle">0</text>
<text x="284.56" y="297.93" font-size="6.7" fill="#2b2b2b" text-anchor="middle">0</text>
<text x="298.39" y="297.93" font-size="6.7" fill="#2b2b2b" text-anchor="middle">0</text>
<text x="312.23" y="297.93" font-size="6.7" fill="#2b2b2b" text-anchor="middle">0</text>
<text x="326.05" y="297.93" font-size="6.7" fill="#2b2b2b" text-anchor="middle">0</text>
<text x="339.88" y="297.93" font-size="6.7" fill="#2b2b2b" text-anchor="middle">0</text>
<text x="353.72" y="297.93" font-size="6.7" fill="#2b2b2b" text-anchor="middle">0</text>
<text x="367.54" y="297.93" font-size="6.7" fill="#2b2b2b" text-anchor="middle">0</text>
<text x="381.38" y="297.93" font-size="6.7" fill="#2b2b2b" text-anchor="middle">1</text>
<text x="395.20" y="297.93" font-size="6.7" fill="#2b2b2b" text-anchor="middle">0</text>
<text x="409.03" y="297.93" font-size="6.7" fill="#2b2b2b" text-anchor="middle">0</text>
<text x="422.87" y="297.93" font-size="6.7" fill="#2b2b2b" text-anchor="middle">0</text>
<text x="436.69" y="297.93" font-size="6.7" fill="#2b2b2b" text-anchor="middle">0</text>
<text x="450.52" y="297.93" font-size="6.7" fill="#2b2b2b" text-anchor="middle">0</text>
<text x="464.36" y="297.93" font-size="6.7" fill="#2b2b2b" text-anchor="middle">0</text>
<text x="478.18" y="297.93" font-size="6.7" fill="#2b2b2b" text-anchor="middle">0</text>
<text x="31.90" y="298.03" font-size="7.6" fill="#000" text-anchor="end" font-weight="bold">22</text>
<text x="57.65" y="308.28" font-size="6.7" fill="#2b2b2b" text-anchor="middle">0</text>
<text x="77.12" y="308.28" font-size="6.7" fill="#2b2b2b" text-anchor="middle">0</text>
<text x="90.94" y="308.28" font-size="6.7" fill="#2b2b2b" text-anchor="middle">0</text>
<text x="104.78" y="308.28" font-size="6.7" fill="#2b2b2b" text-anchor="middle">0</text>
<text x="118.61" y="308.28" font-size="6.7" fill="#2b2b2b" text-anchor="middle">0</text>
<text x="132.44" y="308.28" font-size="6.7" fill="#2b2b2b" text-anchor="middle">0</text>
<text x="146.27" y="308.28" font-size="6.7" fill="#2b2b2b" text-anchor="middle">0</text>
<text x="160.09" y="308.28" font-size="6.7" fill="#2b2b2b" text-anchor="middle">0</text>
<text x="173.93" y="308.28" font-size="6.7" fill="#2b2b2b" text-anchor="middle">0</text>
<text x="187.75" y="308.28" font-size="6.7" fill="#2b2b2b" text-anchor="middle">0</text>
<text x="201.59" y="308.28" font-size="6.7" fill="#2b2b2b" text-anchor="middle">0</text>
<text x="215.41" y="308.28" font-size="6.7" fill="#2b2b2b" text-anchor="middle">0</text>
<text x="229.25" y="308.28" font-size="6.7" fill="#2b2b2b" text-anchor="middle">0</text>
<text x="243.08" y="308.28" font-size="6.7" fill="#2b2b2b" text-anchor="middle">0</text>
<text x="256.90" y="308.28" font-size="6.7" fill="#2b2b2b" text-anchor="middle">0</text>
<text x="270.74" y="308.28" font-size="6.7" fill="#2b2b2b" text-anchor="middle">0</text>
<text x="284.56" y="308.28" font-size="6.7" fill="#2b2b2b" text-anchor="middle">0</text>
<text x="298.39" y="308.28" font-size="6.7" fill="#2b2b2b" text-anchor="middle">0</text>
<text x="312.23" y="308.28" font-size="6.7" fill="#2b2b2b" text-anchor="middle">1</text>
<text x="326.05" y="308.28" font-size="6.7" fill="#2b2b2b" text-anchor="middle">0</text>
<text x="339.88" y="308.28" font-size="6.7" fill="#2b2b2b" text-anchor="middle">0</text>
<text x="353.72" y="308.28" font-size="6.7" fill="#2b2b2b" text-anchor="middle">0</text>
<text x="367.54" y="308.28" font-size="6.7" fill="#2b2b2b" text-anchor="middle">0</text>
<text x="381.38" y="308.28" font-size="6.7" fill="#2b2b2b" text-anchor="middle">0</text>
<text x="395.20" y="308.28" font-size="6.7" fill="#2b2b2b" text-anchor="middle">0</text>
<text x="409.03" y="308.28" font-size="6.7" fill="#2b2b2b" text-anchor="middle">0</text>
<text x="422.87" y="308.28" font-size="6.7" fill="#2b2b2b" text-anchor="middle">0</text>
<text x="436.69" y="308.28" font-size="6.7" fill="#2b2b2b" text-anchor="middle">0</text>
<text x="450.52" y="308.28" font-size="6.7" fill="#2b2b2b" text-anchor="middle">0</text>
<text x="464.36" y="308.28" font-size="6.7" fill="#2b2b2b" text-anchor="middle">0</text>
<text x="478.18" y="308.28" font-size="6.7" fill="#2b2b2b" text-anchor="middle">0</text>
<text x="31.90" y="308.38" font-size="7.6" fill="#000" text-anchor="end" font-weight="bold">23</text>
<text x="57.65" y="318.62" font-size="6.7" fill="#2b2b2b" text-anchor="middle">1</text>
<text x="77.12" y="318.62" font-size="6.7" fill="#2b2b2b" text-anchor="middle">0</text>
<text x="90.94" y="318.62" font-size="6.7" fill="#2b2b2b" text-anchor="middle">0</text>
<text x="104.78" y="318.62" font-size="6.7" fill="#2b2b2b" text-anchor="middle">0</text>
<text x="118.61" y="318.62" font-size="6.7" fill="#2b2b2b" text-anchor="middle">0</text>
<text x="132.44" y="318.62" font-size="6.7" fill="#2b2b2b" text-anchor="middle">0</text>
<text x="146.27" y="318.62" font-size="6.7" fill="#2b2b2b" text-anchor="middle">0</text>
<text x="160.09" y="318.62" font-size="6.7" fill="#2b2b2b" text-anchor="middle">0</text>
<text x="173.93" y="318.62" font-size="6.7" fill="#2b2b2b" text-anchor="middle">0</text>
<text x="187.75" y="318.62" font-size="6.7" fill="#2b2b2b" text-anchor="middle">0</text>
<text x="201.59" y="318.62" font-size="6.7" fill="#2b2b2b" text-anchor="middle">1</text>
<text x="215.41" y="318.62" font-size="6.7" fill="#2b2b2b" text-anchor="middle">0</text>
<text x="229.25" y="318.62" font-size="6.7" fill="#2b2b2b" text-anchor="middle">0</text>
<text x="243.08" y="318.62" font-size="6.7" fill="#2b2b2b" text-anchor="middle">0</text>
<text x="256.90" y="318.62" font-size="6.7" fill="#2b2b2b" text-anchor="middle">0</text>
<text x="270.74" y="318.62" font-size="6.7" fill="#2b2b2b" text-anchor="middle">0</text>
<text x="284.56" y="318.62" font-size="6.7" fill="#2b2b2b" text-anchor="middle">0</text>
<text x="298.39" y="318.62" font-size="6.7" fill="#2b2b2b" text-anchor="middle">0</text>
<text x="312.23" y="318.62" font-size="6.7" fill="#2b2b2b" text-anchor="middle">0</text>
<text x="326.05" y="318.62" font-size="6.7" fill="#2b2b2b" text-anchor="middle">0</text>
<text x="339.88" y="318.62" font-size="6.7" fill="#2b2b2b" text-anchor="middle">0</text>
<text x="353.72" y="318.62" font-size="6.7" fill="#2b2b2b" text-anchor="middle">0</text>
<text x="367.54" y="318.62" font-size="6.7" fill="#2b2b2b" text-anchor="middle">0</text>
<text x="381.38" y="318.62" font-size="6.7" fill="#2b2b2b" text-anchor="middle">0</text>
<text x="395.20" y="318.62" font-size="6.7" fill="#2b2b2b" text-anchor="middle">1</text>
<text x="409.03" y="318.62" font-size="6.7" fill="#2b2b2b" text-anchor="middle">0</text>
<text x="422.87" y="318.62" font-size="6.7" fill="#2b2b2b" text-anchor="middle">0</text>
<text x="436.69" y="318.62" font-size="6.7" fill="#2b2b2b" text-anchor="middle">0</text>
<text x="450.52" y="318.62" font-size="6.7" fill="#2b2b2b" text-anchor="middle">0</text>
<text x="464.36" y="318.62" font-size="6.7" fill="#2b2b2b" text-anchor="middle">0</text>
<text x="478.18" y="318.62" font-size="6.7" fill="#2b2b2b" text-anchor="middle">0</text>
<text x="31.90" y="318.72" font-size="7.6" fill="#000" text-anchor="end" font-weight="bold">00</text>
<text x="57.65" y="328.97" font-size="6.7" fill="#2b2b2b" text-anchor="middle">4</text>
<text x="77.12" y="328.97" font-size="6.7" fill="#2b2b2b" text-anchor="middle">1</text>
<text x="90.94" y="328.97" font-size="6.7" fill="#2b2b2b" text-anchor="middle">0</text>
<text x="104.78" y="328.97" font-size="6.7" fill="#2b2b2b" text-anchor="middle">0</text>
<text x="118.61" y="328.97" font-size="6.7" fill="#2b2b2b" text-anchor="middle">0</text>
<text x="132.44" y="328.97" font-size="6.7" fill="#2b2b2b" text-anchor="middle">0</text>
<text x="146.27" y="328.97" font-size="6.7" fill="#2b2b2b" text-anchor="middle">0</text>
<text x="160.09" y="328.97" font-size="6.7" fill="#2b2b2b" text-anchor="middle">0</text>
<text x="173.93" y="328.97" font-size="6.7" fill="#2b2b2b" text-anchor="middle">0</text>
<text x="187.75" y="328.97" font-size="6.7" fill="#2b2b2b" text-anchor="middle">0</text>
<text x="201.59" y="328.97" font-size="6.7" fill="#2b2b2b" text-anchor="middle">1</text>
<text x="215.41" y="328.97" font-size="6.7" fill="#2b2b2b" text-anchor="middle">0</text>
<text x="229.25" y="328.97" font-size="6.7" fill="#2b2b2b" text-anchor="middle">0</text>
<text x="243.08" y="328.97" font-size="6.7" fill="#2b2b2b" text-anchor="middle">0</text>
<text x="256.90" y="328.97" font-size="6.7" fill="#2b2b2b" text-anchor="middle">0</text>
<text x="270.74" y="328.97" font-size="6.7" fill="#2b2b2b" text-anchor="middle">0</text>
<text x="284.56" y="328.97" font-size="6.7" fill="#2b2b2b" text-anchor="middle">0</text>
<text x="298.39" y="328.97" font-size="6.7" fill="#2b2b2b" text-anchor="middle">0</text>
<text x="312.23" y="328.97" font-size="6.7" fill="#2b2b2b" text-anchor="middle">1</text>
<text x="326.05" y="328.97" font-size="6.7" fill="#2b2b2b" text-anchor="middle">0</text>
<text x="339.88" y="328.97" font-size="6.7" fill="#2b2b2b" text-anchor="middle">2</text>
<text x="353.72" y="328.97" font-size="6.7" fill="#2b2b2b" text-anchor="middle">0</text>
<text x="367.54" y="328.97" font-size="6.7" fill="#2b2b2b" text-anchor="middle">0</text>
<text x="381.38" y="328.97" font-size="6.7" fill="#2b2b2b" text-anchor="middle">2</text>
<text x="395.20" y="328.97" font-size="6.7" fill="#2b2b2b" text-anchor="middle">0</text>
<text x="409.03" y="328.97" font-size="6.7" fill="#2b2b2b" text-anchor="middle">0</text>
<text x="422.87" y="328.97" font-size="6.7" fill="#2b2b2b" text-anchor="middle">0</text>
<text x="436.69" y="328.97" font-size="6.7" fill="#2b2b2b" text-anchor="middle">0</text>
<text x="450.52" y="328.97" font-size="6.7" fill="#2b2b2b" text-anchor="middle">0</text>
<text x="464.36" y="328.97" font-size="6.7" fill="#2b2b2b" text-anchor="middle">0</text>
<text x="478.18" y="328.97" font-size="6.7" fill="#2b2b2b" text-anchor="middle">0</text>
<text x="31.90" y="329.07" font-size="7.6" fill="#000" text-anchor="end" font-weight="bold">01</text>
<text x="57.65" y="339.31" font-size="6.7" fill="#2b2b2b" text-anchor="middle">0</text>
<text x="77.12" y="339.31" font-size="6.7" fill="#2b2b2b" text-anchor="middle">1</text>
<text x="90.94" y="339.31" font-size="6.7" fill="#2b2b2b" text-anchor="middle">0</text>
<text x="104.78" y="339.31" font-size="6.7" fill="#2b2b2b" text-anchor="middle">1</text>
<text x="118.61" y="339.31" font-size="6.7" fill="#2b2b2b" text-anchor="middle">0</text>
<text x="132.44" y="339.31" font-size="6.7" fill="#2b2b2b" text-anchor="middle">0</text>
<text x="146.27" y="339.31" font-size="6.7" fill="#2b2b2b" text-anchor="middle">0</text>
<text x="160.09" y="339.31" font-size="6.7" fill="#2b2b2b" text-anchor="middle">0</text>
<text x="173.93" y="339.31" font-size="6.7" fill="#2b2b2b" text-anchor="middle">0</text>
<text x="187.75" y="339.31" font-size="6.7" fill="#2b2b2b" text-anchor="middle">0</text>
<text x="201.59" y="339.31" font-size="6.7" fill="#2b2b2b" text-anchor="middle">1</text>
<text x="215.41" y="339.31" font-size="6.7" fill="#2b2b2b" text-anchor="middle">1</text>
<text x="229.25" y="339.31" font-size="6.7" fill="#2b2b2b" text-anchor="middle">0</text>
<text x="243.08" y="339.31" font-size="6.7" fill="#2b2b2b" text-anchor="middle">0</text>
<text x="256.90" y="339.31" font-size="6.7" fill="#2b2b2b" text-anchor="middle">0</text>
<text x="270.74" y="339.31" font-size="6.7" fill="#2b2b2b" text-anchor="middle">0</text>
<text x="284.56" y="339.31" font-size="6.7" fill="#2b2b2b" text-anchor="middle">0</text>
<text x="298.39" y="339.31" font-size="6.7" fill="#2b2b2b" text-anchor="middle">1</text>
<text x="312.23" y="339.31" font-size="6.7" fill="#2b2b2b" text-anchor="middle">1</text>
<text x="326.05" y="339.31" font-size="6.7" fill="#2b2b2b" text-anchor="middle">0</text>
<text x="339.88" y="339.31" font-size="6.7" fill="#2b2b2b" text-anchor="middle">0</text>
<text x="353.72" y="339.31" font-size="6.7" fill="#2b2b2b" text-anchor="middle">0</text>
<text x="367.54" y="339.31" font-size="6.7" fill="#2b2b2b" text-anchor="middle">0</text>
<text x="381.38" y="339.31" font-size="6.7" fill="#2b2b2b" text-anchor="middle">0</text>
<text x="395.20" y="339.31" font-size="6.7" fill="#2b2b2b" text-anchor="middle">0</text>
<text x="409.03" y="339.31" font-size="6.7" fill="#2b2b2b" text-anchor="middle">0</text>
<text x="422.87" y="339.31" font-size="6.7" fill="#2b2b2b" text-anchor="middle">0</text>
<text x="436.69" y="339.31" font-size="6.7" fill="#2b2b2b" text-anchor="middle">0</text>
<text x="450.52" y="339.31" font-size="6.7" fill="#2b2b2b" text-anchor="middle">0</text>
<text x="464.36" y="339.31" font-size="6.7" fill="#2b2b2b" text-anchor="middle">0</text>
<text x="478.18" y="339.31" font-size="6.7" fill="#2b2b2b" text-anchor="middle">0</text>
<text x="31.90" y="339.41" font-size="7.6" fill="#000" text-anchor="end" font-weight="bold">02</text>
<text x="57.65" y="349.65" font-size="6.7" fill="#2b2b2b" text-anchor="middle">0</text>
<text x="77.12" y="349.65" font-size="6.7" fill="#2b2b2b" text-anchor="middle">0</text>
<text x="90.94" y="349.65" font-size="6.7" fill="#2b2b2b" text-anchor="middle">0</text>
<text x="104.78" y="349.65" font-size="6.7" fill="#2b2b2b" text-anchor="middle">0</text>
<text x="118.61" y="349.65" font-size="6.7" fill="#2b2b2b" text-anchor="middle">0</text>
<text x="132.44" y="349.65" font-size="6.7" fill="#2b2b2b" text-anchor="middle">0</text>
<text x="146.27" y="349.65" font-size="6.7" fill="#2b2b2b" text-anchor="middle">0</text>
<text x="160.09" y="349.65" font-size="6.7" fill="#2b2b2b" text-anchor="middle">0</text>
<text x="173.93" y="349.65" font-size="6.7" fill="#2b2b2b" text-anchor="middle">1</text>
<text x="187.75" y="349.65" font-size="6.7" fill="#2b2b2b" text-anchor="middle">1</text>
<text x="201.59" y="349.65" font-size="6.7" fill="#2b2b2b" text-anchor="middle">1</text>
<text x="215.41" y="349.65" font-size="6.7" fill="#2b2b2b" text-anchor="middle">0</text>
<text x="229.25" y="349.65" font-size="6.7" fill="#2b2b2b" text-anchor="middle">0</text>
<text x="243.08" y="349.65" font-size="6.7" fill="#2b2b2b" text-anchor="middle">0</text>
<text x="256.90" y="349.65" font-size="6.7" fill="#2b2b2b" text-anchor="middle">1</text>
<text x="270.74" y="349.65" font-size="6.7" fill="#2b2b2b" text-anchor="middle">0</text>
<text x="284.56" y="349.65" font-size="6.7" fill="#2b2b2b" text-anchor="middle">0</text>
<text x="298.39" y="349.65" font-size="6.7" fill="#2b2b2b" text-anchor="middle">1</text>
<text x="312.23" y="349.65" font-size="6.7" fill="#2b2b2b" text-anchor="middle">0</text>
<text x="326.05" y="349.65" font-size="6.7" fill="#2b2b2b" text-anchor="middle">0</text>
<text x="339.88" y="349.65" font-size="6.7" fill="#2b2b2b" text-anchor="middle">0</text>
<text x="353.72" y="349.65" font-size="6.7" fill="#2b2b2b" text-anchor="middle">0</text>
<text x="367.54" y="349.65" font-size="6.7" fill="#2b2b2b" text-anchor="middle">0</text>
<text x="381.38" y="349.65" font-size="6.7" fill="#2b2b2b" text-anchor="middle">1</text>
<text x="395.20" y="349.65" font-size="6.7" fill="#2b2b2b" text-anchor="middle">1</text>
<text x="409.03" y="349.65" font-size="6.7" fill="#2b2b2b" text-anchor="middle">0</text>
<text x="422.87" y="349.65" font-size="6.7" fill="#2b2b2b" text-anchor="middle">0</text>
<text x="436.69" y="349.65" font-size="6.7" fill="#2b2b2b" text-anchor="middle">0</text>
<text x="450.52" y="349.65" font-size="6.7" fill="#2b2b2b" text-anchor="middle">0</text>
<text x="464.36" y="349.65" font-size="6.7" fill="#2b2b2b" text-anchor="middle">0</text>
<text x="478.18" y="349.65" font-size="6.7" fill="#2b2b2b" text-anchor="middle">0</text>
<text x="31.90" y="349.75" font-size="7.6" fill="#000" text-anchor="end" font-weight="bold">03</text>
<text x="57.65" y="360.00" font-size="6.7" fill="#2b2b2b" text-anchor="middle">0</text>
<text x="77.12" y="360.00" font-size="6.7" fill="#2b2b2b" text-anchor="middle">0</text>
<text x="90.94" y="360.00" font-size="6.7" fill="#2b2b2b" text-anchor="middle">1</text>
<text x="104.78" y="360.00" font-size="6.7" fill="#2b2b2b" text-anchor="middle">0</text>
<text x="118.61" y="360.00" font-size="6.7" fill="#2b2b2b" text-anchor="middle">0</text>
<text x="132.44" y="360.00" font-size="6.7" fill="#2b2b2b" text-anchor="middle">0</text>
<text x="146.27" y="360.00" font-size="6.7" fill="#2b2b2b" text-anchor="middle">0</text>
<text x="160.09" y="360.00" font-size="6.7" fill="#2b2b2b" text-anchor="middle">0</text>
<text x="173.93" y="360.00" font-size="6.7" fill="#2b2b2b" text-anchor="middle">0</text>
<text x="187.75" y="360.00" font-size="6.7" fill="#2b2b2b" text-anchor="middle">1</text>
<text x="201.59" y="360.00" font-size="6.7" fill="#2b2b2b" text-anchor="middle">0</text>
<text x="215.41" y="360.00" font-size="6.7" fill="#2b2b2b" text-anchor="middle">0</text>
<text x="229.25" y="360.00" font-size="6.7" fill="#2b2b2b" text-anchor="middle">0</text>
<text x="243.08" y="360.00" font-size="6.7" fill="#2b2b2b" text-anchor="middle">0</text>
<text x="256.90" y="360.00" font-size="6.7" fill="#2b2b2b" text-anchor="middle">0</text>
<text x="270.74" y="360.00" font-size="6.7" fill="#2b2b2b" text-anchor="middle">0</text>
<text x="284.56" y="360.00" font-size="6.7" fill="#2b2b2b" text-anchor="middle">0</text>
<text x="298.39" y="360.00" font-size="6.7" fill="#2b2b2b" text-anchor="middle">0</text>
<text x="312.23" y="360.00" font-size="6.7" fill="#2b2b2b" text-anchor="middle">0</text>
<text x="326.05" y="360.00" font-size="6.7" fill="#2b2b2b" text-anchor="middle">0</text>
<text x="339.88" y="360.00" font-size="6.7" fill="#2b2b2b" text-anchor="middle">0</text>
<text x="353.72" y="360.00" font-size="6.7" fill="#2b2b2b" text-anchor="middle">0</text>
<text x="367.54" y="360.00" font-size="6.7" fill="#2b2b2b" text-anchor="middle">0</text>
<text x="381.38" y="360.00" font-size="6.7" fill="#2b2b2b" text-anchor="middle">0</text>
<text x="395.20" y="360.00" font-size="6.7" fill="#2b2b2b" text-anchor="middle">0</text>
<text x="409.03" y="360.00" font-size="6.7" fill="#2b2b2b" text-anchor="middle">0</text>
<text x="422.87" y="360.00" font-size="6.7" fill="#2b2b2b" text-anchor="middle">0</text>
<text x="436.69" y="360.00" font-size="6.7" fill="#2b2b2b" text-anchor="middle">0</text>
<text x="450.52" y="360.00" font-size="6.7" fill="#2b2b2b" text-anchor="middle">0</text>
<text x="464.36" y="360.00" font-size="6.7" fill="#2b2b2b" text-anchor="middle">0</text>
<text x="478.18" y="360.00" font-size="6.7" fill="#2b2b2b" text-anchor="middle">0</text>
<text x="31.90" y="360.10" font-size="7.6" fill="#000" text-anchor="end" font-weight="bold">04</text>
<text x="57.65" y="370.34" font-size="6.7" fill="#2b2b2b" text-anchor="middle">0</text>
<text x="77.12" y="370.34" font-size="6.7" fill="#2b2b2b" text-anchor="middle">0</text>
<text x="90.94" y="370.34" font-size="6.7" fill="#2b2b2b" text-anchor="middle">0</text>
<text x="104.78" y="370.34" font-size="6.7" fill="#2b2b2b" text-anchor="middle">0</text>
<text x="118.61" y="370.34" font-size="6.7" fill="#2b2b2b" text-anchor="middle">0</text>
<text x="132.44" y="370.34" font-size="6.7" fill="#2b2b2b" text-anchor="middle">0</text>
<text x="146.27" y="370.34" font-size="6.7" fill="#2b2b2b" text-anchor="middle">0</text>
<text x="160.09" y="370.34" font-size="6.7" fill="#2b2b2b" text-anchor="middle">0</text>
<text x="173.93" y="370.34" font-size="6.7" fill="#2b2b2b" text-anchor="middle">0</text>
<text x="187.75" y="370.34" font-size="6.7" fill="#2b2b2b" text-anchor="middle">0</text>
<text x="201.59" y="370.34" font-size="6.7" fill="#2b2b2b" text-anchor="middle">0</text>
<text x="215.41" y="370.34" font-size="6.7" fill="#2b2b2b" text-anchor="middle">0</text>
<text x="229.25" y="370.34" font-size="6.7" fill="#2b2b2b" text-anchor="middle">0</text>
<text x="243.08" y="370.34" font-size="6.7" fill="#2b2b2b" text-anchor="middle">0</text>
<text x="256.90" y="370.34" font-size="6.7" fill="#2b2b2b" text-anchor="middle">0</text>
<text x="270.74" y="370.34" font-size="6.7" fill="#2b2b2b" text-anchor="middle">0</text>
<text x="284.56" y="370.34" font-size="6.7" fill="#2b2b2b" text-anchor="middle">0</text>
<text x="298.39" y="370.34" font-size="6.7" fill="#2b2b2b" text-anchor="middle">0</text>
<text x="312.23" y="370.34" font-size="6.7" fill="#2b2b2b" text-anchor="middle">0</text>
<text x="326.05" y="370.34" font-size="6.7" fill="#2b2b2b" text-anchor="middle">0</text>
<text x="339.88" y="370.34" font-size="6.7" fill="#2b2b2b" text-anchor="middle">0</text>
<text x="353.72" y="370.34" font-size="6.7" fill="#2b2b2b" text-anchor="middle">0</text>
<text x="367.54" y="370.34" font-size="6.7" fill="#2b2b2b" text-anchor="middle">0</text>
<text x="381.38" y="370.34" font-size="6.7" fill="#2b2b2b" text-anchor="middle">0</text>
<text x="395.20" y="370.34" font-size="6.7" fill="#2b2b2b" text-anchor="middle">0</text>
<text x="409.03" y="370.34" font-size="6.7" fill="#2b2b2b" text-anchor="middle">0</text>
<text x="422.87" y="370.34" font-size="6.7" fill="#2b2b2b" text-anchor="middle">0</text>
<text x="436.69" y="370.34" font-size="6.7" fill="#2b2b2b" text-anchor="middle">0</text>
<text x="450.52" y="370.34" font-size="6.7" fill="#2b2b2b" text-anchor="middle">0</text>
<text x="464.36" y="370.34" font-size="6.7" fill="#2b2b2b" text-anchor="middle">0</text>
<text x="478.18" y="370.34" font-size="6.7" fill="#2b2b2b" text-anchor="middle">0</text>
<text x="31.90" y="370.44" font-size="7.6" fill="#000" text-anchor="end" font-weight="bold">05</text>
<text x="57.65" y="380.68" font-size="6.7" fill="#2b2b2b" text-anchor="middle">0</text>
<text x="77.12" y="380.68" font-size="6.7" fill="#2b2b2b" text-anchor="middle">0</text>
<text x="90.94" y="380.68" font-size="6.7" fill="#2b2b2b" text-anchor="middle">0</text>
<text x="104.78" y="380.68" font-size="6.7" fill="#2b2b2b" text-anchor="middle">0</text>
<text x="118.61" y="380.68" font-size="6.7" fill="#2b2b2b" text-anchor="middle">0</text>
<text x="132.44" y="380.68" font-size="6.7" fill="#2b2b2b" text-anchor="middle">0</text>
<text x="146.27" y="380.68" font-size="6.7" fill="#2b2b2b" text-anchor="middle">0</text>
<text x="160.09" y="380.68" font-size="6.7" fill="#2b2b2b" text-anchor="middle">0</text>
<text x="173.93" y="380.68" font-size="6.7" fill="#2b2b2b" text-anchor="middle">0</text>
<text x="187.75" y="380.68" font-size="6.7" fill="#2b2b2b" text-anchor="middle">0</text>
<text x="201.59" y="380.68" font-size="6.7" fill="#2b2b2b" text-anchor="middle">0</text>
<text x="215.41" y="380.68" font-size="6.7" fill="#2b2b2b" text-anchor="middle">0</text>
<text x="229.25" y="380.68" font-size="6.7" fill="#2b2b2b" text-anchor="middle">0</text>
<text x="243.08" y="380.68" font-size="6.7" fill="#2b2b2b" text-anchor="middle">0</text>
<text x="256.90" y="380.68" font-size="6.7" fill="#2b2b2b" text-anchor="middle">0</text>
<text x="270.74" y="380.68" font-size="6.7" fill="#2b2b2b" text-anchor="middle">0</text>
<text x="284.56" y="380.68" font-size="6.7" fill="#2b2b2b" text-anchor="middle">0</text>
<text x="298.39" y="380.68" font-size="6.7" fill="#2b2b2b" text-anchor="middle">0</text>
<text x="312.23" y="380.68" font-size="6.7" fill="#2b2b2b" text-anchor="middle">0</text>
<text x="326.05" y="380.68" font-size="6.7" fill="#2b2b2b" text-anchor="middle">0</text>
<text x="339.88" y="380.68" font-size="6.7" fill="#2b2b2b" text-anchor="middle">0</text>
<text x="353.72" y="380.68" font-size="6.7" fill="#2b2b2b" text-anchor="middle">0</text>
<text x="367.54" y="380.68" font-size="6.7" fill="#2b2b2b" text-anchor="middle">0</text>
<text x="381.38" y="380.68" font-size="6.7" fill="#2b2b2b" text-anchor="middle">0</text>
<text x="395.20" y="380.68" font-size="6.7" fill="#2b2b2b" text-anchor="middle">0</text>
<text x="409.03" y="380.68" font-size="6.7" fill="#2b2b2b" text-anchor="middle">0</text>
<text x="422.87" y="380.68" font-size="6.7" fill="#2b2b2b" text-anchor="middle">0</text>
<text x="436.69" y="380.68" font-size="6.7" fill="#2b2b2b" text-anchor="middle">0</text>
<text x="450.52" y="380.68" font-size="6.7" fill="#2b2b2b" text-anchor="middle">0</text>
<text x="464.36" y="380.68" font-size="6.7" fill="#2b2b2b" text-anchor="middle">0</text>
<text x="478.18" y="380.68" font-size="6.7" fill="#2b2b2b" text-anchor="middle">0</text>
<text x="31.90" y="380.78" font-size="7.6" fill="#000" text-anchor="end" font-weight="bold">06</text>
<text x="57.65" y="391.03" font-size="6.7" fill="#2b2b2b" text-anchor="middle">0</text>
<text x="77.12" y="391.03" font-size="6.7" fill="#2b2b2b" text-anchor="middle">0</text>
<text x="90.94" y="391.03" font-size="6.7" fill="#2b2b2b" text-anchor="middle">0</text>
<text x="104.78" y="391.03" font-size="6.7" fill="#2b2b2b" text-anchor="middle">0</text>
<text x="118.61" y="391.03" font-size="6.7" fill="#2b2b2b" text-anchor="middle">0</text>
<text x="132.44" y="391.03" font-size="6.7" fill="#2b2b2b" text-anchor="middle">0</text>
<text x="146.27" y="391.03" font-size="6.7" fill="#2b2b2b" text-anchor="middle">0</text>
<text x="160.09" y="391.03" font-size="6.7" fill="#2b2b2b" text-anchor="middle">0</text>
<text x="173.93" y="391.03" font-size="6.7" fill="#2b2b2b" text-anchor="middle">0</text>
<text x="187.75" y="391.03" font-size="6.7" fill="#2b2b2b" text-anchor="middle">0</text>
<text x="201.59" y="391.03" font-size="6.7" fill="#2b2b2b" text-anchor="middle">0</text>
<text x="215.41" y="391.03" font-size="6.7" fill="#2b2b2b" text-anchor="middle">0</text>
<text x="229.25" y="391.03" font-size="6.7" fill="#2b2b2b" text-anchor="middle">0</text>
<text x="243.08" y="391.03" font-size="6.7" fill="#2b2b2b" text-anchor="middle">0</text>
<text x="256.90" y="391.03" font-size="6.7" fill="#2b2b2b" text-anchor="middle">0</text>
<text x="270.74" y="391.03" font-size="6.7" fill="#2b2b2b" text-anchor="middle">0</text>
<text x="284.56" y="391.03" font-size="6.7" fill="#2b2b2b" text-anchor="middle">0</text>
<text x="298.39" y="391.03" font-size="6.7" fill="#2b2b2b" text-anchor="middle">0</text>
<text x="312.23" y="391.03" font-size="6.7" fill="#2b2b2b" text-anchor="middle">0</text>
<text x="326.05" y="391.03" font-size="6.7" fill="#2b2b2b" text-anchor="middle">0</text>
<text x="339.88" y="391.03" font-size="6.7" fill="#2b2b2b" text-anchor="middle">0</text>
<text x="353.72" y="391.03" font-size="6.7" fill="#2b2b2b" text-anchor="middle">0</text>
<text x="367.54" y="391.03" font-size="6.7" fill="#2b2b2b" text-anchor="middle">0</text>
<text x="381.38" y="391.03" font-size="6.7" fill="#2b2b2b" text-anchor="middle">0</text>
<text x="395.20" y="391.03" font-size="6.7" fill="#2b2b2b" text-anchor="middle">0</text>
<text x="409.03" y="391.03" font-size="6.7" fill="#2b2b2b" text-anchor="middle">0</text>
<text x="422.87" y="391.03" font-size="6.7" fill="#2b2b2b" text-anchor="middle">0</text>
<text x="436.69" y="391.03" font-size="6.7" fill="#2b2b2b" text-anchor="middle">0</text>
<text x="450.52" y="391.03" font-size="6.7" fill="#2b2b2b" text-anchor="middle">0</text>
<text x="464.36" y="391.03" font-size="6.7" fill="#2b2b2b" text-anchor="middle">0</text>
<text x="478.18" y="391.03" font-size="6.7" fill="#2b2b2b" text-anchor="middle">0</text>
<text x="31.90" y="391.13" font-size="7.6" fill="#000" text-anchor="end" font-weight="bold">07</text>
<text x="7.20" y="320.20" font-size="7.3" fill="#000" font-weight="bold" textLength="20.70" lengthAdjust="spacingAndGlyphs" transform="rotate(-90 7.20 320.20)">HOUR</text>
<text x="67.40" y="433.80" font-size="7.1" fill="#000" font-weight="bold" textLength="36.90" lengthAdjust="spacing" transform="rotate(-90 67.40 433.80)">2019/04/03</text>
<text x="81.23" y="433.80" font-size="7.1" fill="#000" font-weight="bold" textLength="36.90" lengthAdjust="spacing" transform="rotate(-90 81.23 433.80)">2019/04/04</text>
<text x="95.06" y="433.80" font-size="7.1" fill="#000" font-weight="bold" textLength="36.90" lengthAdjust="spacing" transform="rotate(-90 95.06 433.80)">2019/04/05</text>
<text x="108.89" y="433.80" font-size="7.1" fill="#000" font-weight="bold" textLength="36.90" lengthAdjust="spacing" transform="rotate(-90 108.89 433.80)">2019/04/06</text>
<text x="122.72" y="433.80" font-size="7.1" fill="#000" font-weight="bold" textLength="36.90" lengthAdjust="spacing" transform="rotate(-90 122.72 433.80)">2019/04/07</text>
<text x="136.55" y="433.80" font-size="7.1" fill="#000" font-weight="bold" textLength="36.90" lengthAdjust="spacing" transform="rotate(-90 136.55 433.80)">2019/04/08</text>
<text x="150.38" y="433.80" font-size="7.1" fill="#000" font-weight="bold" textLength="36.90" lengthAdjust="spacing" transform="rotate(-90 150.38 433.80)">2019/04/09</text>
<text x="164.21" y="433.80" font-size="7.1" fill="#000" font-weight="bold" textLength="36.90" lengthAdjust="spacing" transform="rotate(-90 164.21 433.80)">2019/04/10</text>
<text x="178.04" y="433.80" font-size="7.1" fill="#000" font-weight="bold" textLength="36.90" lengthAdjust="spacing" transform="rotate(-90 178.04 433.80)">2019/04/11</text>
<text x="191.87" y="433.80" font-size="7.1" fill="#000" font-weight="bold" textLength="36.90" lengthAdjust="spacing" transform="rotate(-90 191.87 433.80)">2019/04/12</text>
<text x="205.70" y="433.80" font-size="7.1" fill="#000" font-weight="bold" textLength="36.90" lengthAdjust="spacing" transform="rotate(-90 205.70 433.80)">2019/04/13</text>
<text x="219.53" y="433.80" font-size="7.1" fill="#000" font-weight="bold" textLength="36.90" lengthAdjust="spacing" transform="rotate(-90 219.53 433.80)">2019/04/14</text>
<text x="233.36" y="433.80" font-size="7.1" fill="#000" font-weight="bold" textLength="36.90" lengthAdjust="spacing" transform="rotate(-90 233.36 433.80)">2019/04/15</text>
<text x="247.19" y="433.80" font-size="7.1" fill="#000" font-weight="bold" textLength="36.90" lengthAdjust="spacing" transform="rotate(-90 247.19 433.80)">2019/04/16</text>
<text x="261.02" y="433.80" font-size="7.1" fill="#000" font-weight="bold" textLength="36.90" lengthAdjust="spacing" transform="rotate(-90 261.02 433.80)">2019/04/17</text>
<text x="274.85" y="433.80" font-size="7.1" fill="#000" font-weight="bold" textLength="36.90" lengthAdjust="spacing" transform="rotate(-90 274.85 433.80)">2019/04/18</text>
<text x="288.68" y="433.80" font-size="7.1" fill="#000" font-weight="bold" textLength="36.90" lengthAdjust="spacing" transform="rotate(-90 288.68 433.80)">2019/04/19</text>
<text x="302.51" y="433.80" font-size="7.1" fill="#000" font-weight="bold" textLength="36.90" lengthAdjust="spacing" transform="rotate(-90 302.51 433.80)">2019/04/20</text>
<text x="316.34" y="433.80" font-size="7.1" fill="#000" font-weight="bold" textLength="36.90" lengthAdjust="spacing" transform="rotate(-90 316.34 433.80)">2019/04/21</text>
<text x="330.17" y="433.80" font-size="7.1" fill="#000" font-weight="bold" textLength="36.90" lengthAdjust="spacing" transform="rotate(-90 330.17 433.80)">2019/04/22</text>
<text x="344.00" y="433.80" font-size="7.1" fill="#000" font-weight="bold" textLength="36.90" lengthAdjust="spacing" transform="rotate(-90 344.00 433.80)">2019/04/23</text>
<text x="357.83" y="433.80" font-size="7.1" fill="#000" font-weight="bold" textLength="36.90" lengthAdjust="spacing" transform="rotate(-90 357.83 433.80)">2019/04/24</text>
<text x="371.66" y="433.80" font-size="7.1" fill="#000" font-weight="bold" textLength="36.90" lengthAdjust="spacing" transform="rotate(-90 371.66 433.80)">2019/04/25</text>
<text x="385.49" y="433.80" font-size="7.1" fill="#000" font-weight="bold" textLength="36.90" lengthAdjust="spacing" transform="rotate(-90 385.49 433.80)">2019/04/26</text>
<text x="399.32" y="433.80" font-size="7.1" fill="#000" font-weight="bold" textLength="36.90" lengthAdjust="spacing" transform="rotate(-90 399.32 433.80)">2019/04/27</text>
<text x="413.15" y="433.80" font-size="7.1" fill="#000" font-weight="bold" textLength="36.90" lengthAdjust="spacing" transform="rotate(-90 413.15 433.80)">2019/04/28</text>
<text x="426.98" y="433.80" font-size="7.1" fill="#000" font-weight="bold" textLength="36.90" lengthAdjust="spacing" transform="rotate(-90 426.98 433.80)">2019/04/29</text>
<text x="440.81" y="433.80" font-size="7.1" fill="#000" font-weight="bold" textLength="36.90" lengthAdjust="spacing" transform="rotate(-90 440.81 433.80)">2019/04/30</text>
<text x="454.64" y="433.80" font-size="7.1" fill="#000" font-weight="bold" textLength="36.90" lengthAdjust="spacing" transform="rotate(-90 454.64 433.80)">2019/05/01</text>
<text x="468.47" y="433.80" font-size="7.1" fill="#000" font-weight="bold" textLength="36.90" lengthAdjust="spacing" transform="rotate(-90 468.47 433.80)">2019/05/02</text>
<text x="482.30" y="433.80" font-size="7.1" fill="#000" font-weight="bold" textLength="36.90" lengthAdjust="spacing" transform="rotate(-90 482.30 433.80)">2019/05/03</text>
<text x="597.00" y="13.60" font-size="9.3" fill="#595959" textLength="131.30" lengthAdjust="spacing">All Meteor's Captured in period</text>
<path d="M596.50,94.90 L596.50,45.30 A49.6,49.6 0 1 1 546.93,93.31 Z" fill="#5b9bd5" stroke="#fff" stroke-width="0.8" stroke-linejoin="round"/>
<path d="M596.50,94.90 L546.93,93.31 A49.6,49.6 0 0 1 551.15,74.82 Z" fill="#ed7d31" stroke="#fff" stroke-width="0.8" stroke-linejoin="round"/>
<path d="M596.50,94.90 L551.15,74.82 A49.6,49.6 0 0 1 557.72,63.97 Z" fill="#a5a5a5" stroke="#fff" stroke-width="0.8" stroke-linejoin="round"/>
<path d="M596.50,94.90 L557.72,63.97 A49.6,49.6 0 0 1 561.99,59.27 Z" fill="#ffc000" stroke="#fff" stroke-width="0.8" stroke-linejoin="round"/>
<path d="M596.50,94.90 L561.99,59.27 A49.6,49.6 0 0 1 566.83,55.15 Z" fill="#4472c4" stroke="#fff" stroke-width="0.8" stroke-linejoin="round"/>
<path d="M596.50,94.90 L566.83,55.15 A49.6,49.6 0 0 1 572.16,51.68 Z" fill="#70ad47" stroke="#fff" stroke-width="0.8" stroke-linejoin="round"/>
<path d="M596.50,94.90 L572.16,51.68 A49.6,49.6 0 0 1 577.89,48.92 Z" fill="#255e91" stroke="#fff" stroke-width="0.8" stroke-linejoin="round"/>
<path d="M596.50,94.90 L577.89,48.92 A49.6,49.6 0 0 1 583.92,46.92 Z" fill="#9e480e" stroke="#fff" stroke-width="0.8" stroke-linejoin="round"/>
<path d="M596.50,94.90 L583.92,46.92 A49.6,49.6 0 0 1 590.16,45.71 Z" fill="#636363" stroke="#fff" stroke-width="0.8" stroke-linejoin="round"/>
<path d="M596.50,94.90 L590.16,45.71 A49.6,49.6 0 0 1 596.50,45.30 Z" fill="#997300" stroke="#fff" stroke-width="0.8" stroke-linejoin="round"/>
<text x="622.70" y="128.40" font-size="8.2" fill="#404040" text-anchor="middle">37</text>
<text x="554.00" y="89.40" font-size="8.2" fill="#404040" text-anchor="middle">3</text>
<text x="560.00" y="76.60" font-size="8.2" fill="#404040" text-anchor="middle">2</text>
<text x="548.90" y="58.60" font-size="8.2" fill="#595959" text-anchor="middle">1</text>
<text x="558.75" y="54.00" font-size="8.2" fill="#595959" text-anchor="middle">1</text>
<text x="565.00" y="48.90" font-size="8.2" fill="#595959" text-anchor="middle">1</text>
<text x="570.90" y="46.10" font-size="8.2" fill="#595959" text-anchor="middle">1</text>
<text x="579.80" y="44.90" font-size="8.2" fill="#595959" text-anchor="middle">1</text>
<text x="586.40" y="43.80" font-size="8.2" fill="#595959" text-anchor="middle">1</text>
<text x="594.00" y="57.40" font-size="8.2" fill="#595959" text-anchor="middle">1</text>
<polyline points="552.3,57.3 555.9,57.3 560.5,61.8" fill="none" stroke="#a6a6a6" stroke-width="0.6"/>
<rect x="661.20" y="20.40" width="4.60" height="4.60" fill="#5b9bd5"/>
<text x="668.90" y="26.00" font-size="9.3" fill="#595959" textLength="36.60" lengthAdjust="spacingAndGlyphs">Sporadic</text>
<rect x="661.20" y="34.23" width="4.60" height="4.60" fill="#ed7d31"/>
<text x="668.90" y="39.83" font-size="9.3" fill="#595959" textLength="45.80" lengthAdjust="spacing">April Lyrids</text>
<rect x="661.20" y="48.06" width="4.60" height="4.60" fill="#a5a5a5"/>
<text x="668.90" y="53.66" font-size="9.3" fill="#595959" textLength="72.00" lengthAdjust="spacingAndGlyphs">kappa Serpentids</text>
<rect x="661.20" y="61.89" width="4.60" height="4.60" fill="#ffc000"/>
<text x="668.90" y="67.49" font-size="9.3" fill="#595959" textLength="119.85" lengthAdjust="spacingAndGlyphs">Aprilalpha Comae Berenicids</text>
<rect x="661.20" y="75.72" width="4.60" height="4.60" fill="#4472c4"/>
<text x="668.90" y="81.32" font-size="9.3" fill="#595959" textLength="57.20" lengthAdjust="spacing">delta Aquilids</text>
<rect x="661.20" y="89.55" width="4.60" height="4.60" fill="#70ad47"/>
<text x="668.90" y="95.15" font-size="9.3" fill="#595959" textLength="70.10" lengthAdjust="spacing">lambda Virginids</text>
<rect x="661.20" y="103.38" width="4.60" height="4.60" fill="#255e91"/>
<text x="668.90" y="108.98" font-size="9.3" fill="#595959" textLength="58.20" lengthAdjust="spacing">mu Draconids</text>
<rect x="661.20" y="117.21" width="4.60" height="4.60" fill="#9e480e"/>
<text x="668.90" y="122.81" font-size="9.3" fill="#595959" textLength="57.40" lengthAdjust="spacing">phi Draconids</text>
<rect x="661.20" y="131.04" width="4.60" height="4.60" fill="#636363"/>
<text x="668.90" y="136.64" font-size="9.3" fill="#595959" textLength="59.30" lengthAdjust="spacingAndGlyphs">sigma Leonids</text>
<rect x="661.20" y="144.87" width="4.60" height="4.60" fill="#997300"/>
<text x="668.90" y="150.47" font-size="9.3" fill="#595959" textLength="52.30" lengthAdjust="spacingAndGlyphs">zeta Cygnids</text>
<path d="M792.0,124.6 L793.1,124.6 L793.1,134.8" fill="none" stroke="#217346" stroke-width="0.9"/>
<rect x="792.00" y="134.30" width="2.40" height="2.50" fill="#217346"/>
<text x="597.00" y="169.80" font-size="9.3" fill="#595959" textLength="84.00" lengthAdjust="spacing">Sporadic Magnitude</text>
<line x1="532.80" y1="248.13" x2="765.80" y2="248.13" stroke="#ececec" stroke-width="0.8"/>
<line x1="532.80" y1="240.16" x2="765.80" y2="240.16" stroke="#ececec" stroke-width="0.8"/>
<line x1="532.80" y1="232.19" x2="765.80" y2="232.19" stroke="#ececec" stroke-width="0.8"/>
<line x1="532.80" y1="224.22" x2="765.80" y2="224.22" stroke="#ececec" stroke-width="0.8"/>
<line x1="532.80" y1="216.25" x2="765.80" y2="216.25" stroke="#ececec" stroke-width="0.8"/>
<line x1="532.80" y1="208.28" x2="765.80" y2="208.28" stroke="#ececec" stroke-width="0.8"/>
<line x1="532.80" y1="200.31" x2="765.80" y2="200.31" stroke="#ececec" stroke-width="0.8"/>
<line x1="532.80" y1="192.34" x2="765.80" y2="192.34" stroke="#ececec" stroke-width="0.8"/>
<line x1="532.80" y1="184.37" x2="765.80" y2="184.37" stroke="#ececec" stroke-width="0.8"/>
<line x1="532.80" y1="176.40" x2="765.80" y2="176.40" stroke="#ececec" stroke-width="0.8"/>
<line x1="532.80" y1="256.30" x2="765.80" y2="256.30" stroke="#d9d9d9" stroke-width="0.8"/>
<path d="M614.35,212.27h11.65v43.84h-11.65zM626.00,180.39h11.65v75.72h-11.65zM637.65,236.18h11.65v19.93h-11.65zM649.30,248.13h11.65v7.97h-11.65z" fill="#5b9bd5"/>
<text x="527.00" y="258.00" font-size="6.4" fill="#595959" text-anchor="end" textLength="3.40" lengthAdjust="spacingAndGlyphs">0</text>
<text x="527.00" y="250.03" font-size="6.4" fill="#595959" text-anchor="end" textLength="3.40" lengthAdjust="spacingAndGlyphs">2</text>
<text x="527.00" y="242.06" font-size="6.4" fill="#595959" text-anchor="end" textLength="3.40" lengthAdjust="spacingAndGlyphs">4</text>
<text x="527.00" y="234.09" font-size="6.4" fill="#595959" text-anchor="end" textLength="3.40" lengthAdjust="spacingAndGlyphs">6</text>
<text x="527.00" y="226.12" font-size="6.4" fill="#595959" text-anchor="end" textLength="3.40" lengthAdjust="spacingAndGlyphs">8</text>
<text x="527.00" y="218.15" font-size="6.4" fill="#595959" text-anchor="end" textLength="6.80" lengthAdjust="spacingAndGlyphs">10</text>
<text x="527.00" y="210.18" font-size="6.4" fill="#595959" text-anchor="end" textLength="6.80" lengthAdjust="spacingAndGlyphs">12</text>
<text x="527.00" y="202.21" font-size="6.4" fill="#595959" text-anchor="end" textLength="6.80" lengthAdjust="spacingAndGlyphs">14</text>
<text x="527.00" y="194.24" font-size="6.4" fill="#595959" text-anchor="end" textLength="6.80" lengthAdjust="spacingAndGlyphs">16</text>
<text x="527.00" y="186.27" font-size="6.4" fill="#595959" text-anchor="end" textLength="6.80" lengthAdjust="spacingAndGlyphs">18</text>
<text x="527.00" y="178.30" font-size="6.4" fill="#595959" text-anchor="end" textLength="6.80" lengthAdjust="spacingAndGlyphs">20</text>
<path d="M536.42,253.90 L540.83,258.30 M540.83,253.90 L536.42,258.30" stroke="#111" stroke-width="1.35"/>
<path d="M548.07,253.90 L552.48,258.30 M552.48,253.90 L548.07,258.30" stroke="#111" stroke-width="1.35"/>
<path d="M559.72,253.90 L564.12,258.30 M564.12,253.90 L559.72,258.30" stroke="#111" stroke-width="1.35"/>
<path d="M571.37,253.90 L575.77,258.30 M575.77,253.90 L571.37,258.30" stroke="#111" stroke-width="1.35"/>
<path d="M583.02,253.90 L587.42,258.30 M587.42,253.90 L583.02,258.30" stroke="#111" stroke-width="1.35"/>
<path d="M594.67,253.90 L599.08,258.30 M599.08,253.90 L594.67,258.30" stroke="#111" stroke-width="1.35"/>
<path d="M606.32,253.90 L610.73,258.30 M610.73,253.90 L606.32,258.30" stroke="#111" stroke-width="1.35"/>
<path d="M617.97,210.07 L622.38,214.47 M622.38,210.07 L617.97,214.47" stroke="#111" stroke-width="1.35"/>
<path d="M629.62,178.19 L634.02,182.59 M634.02,178.19 L629.62,182.59" stroke="#111" stroke-width="1.35"/>
<path d="M641.27,233.98 L645.67,238.38 M645.67,233.98 L641.27,238.38" stroke="#111" stroke-width="1.35"/>
<path d="M652.92,245.93 L657.33,250.33 M657.33,245.93 L652.92,250.33" stroke="#111" stroke-width="1.35"/>
<path d="M664.57,253.90 L668.98,258.30 M668.98,253.90 L664.57,258.30" stroke="#111" stroke-width="1.35"/>
<path d="M676.22,253.90 L680.62,258.30 M680.62,253.90 L676.22,258.30" stroke="#111" stroke-width="1.35"/>
<path d="M687.87,253.90 L692.27,258.30 M692.27,253.90 L687.87,258.30" stroke="#111" stroke-width="1.35"/>
<path d="M699.52,253.90 L703.92,258.30 M703.92,253.90 L699.52,258.30" stroke="#111" stroke-width="1.35"/>
<path d="M711.17,253.90 L715.58,258.30 M715.58,253.90 L711.17,258.30" stroke="#111" stroke-width="1.35"/>
<path d="M722.82,253.90 L727.23,258.30 M727.23,253.90 L722.82,258.30" stroke="#111" stroke-width="1.35"/>
<path d="M734.47,253.90 L738.88,258.30 M738.88,253.90 L734.47,258.30" stroke="#111" stroke-width="1.35"/>
<path d="M746.12,253.90 L750.52,258.30 M750.52,253.90 L746.12,258.30" stroke="#111" stroke-width="1.35"/>
<path d="M757.77,253.90 L762.17,258.30 M762.17,253.90 L757.77,258.30" stroke="#111" stroke-width="1.35"/>
<text x="538.62" y="266.70" font-size="6.8" fill="#595959" text-anchor="middle">8</text>
<text x="538.62" y="275.50" font-size="6.8" fill="#595959" text-anchor="middle" textLength="10.60" lengthAdjust="spacingAndGlyphs">to 7</text>
<text x="550.27" y="266.70" font-size="6.8" fill="#595959" text-anchor="middle">7</text>
<text x="550.27" y="275.50" font-size="6.8" fill="#595959" text-anchor="middle" textLength="10.60" lengthAdjust="spacingAndGlyphs">to 6</text>
<text x="561.92" y="266.70" font-size="6.8" fill="#595959" text-anchor="middle">6</text>
<text x="561.92" y="275.50" font-size="6.8" fill="#595959" text-anchor="middle" textLength="10.60" lengthAdjust="spacingAndGlyphs">to 5</text>
<text x="573.57" y="266.70" font-size="6.8" fill="#595959" text-anchor="middle">5</text>
<text x="573.57" y="275.50" font-size="6.8" fill="#595959" text-anchor="middle" textLength="10.60" lengthAdjust="spacingAndGlyphs">to 4</text>
<text x="585.22" y="266.70" font-size="6.8" fill="#595959" text-anchor="middle">4</text>
<text x="585.22" y="275.50" font-size="6.8" fill="#595959" text-anchor="middle" textLength="10.60" lengthAdjust="spacingAndGlyphs">to 3</text>
<text x="596.88" y="266.70" font-size="6.8" fill="#595959" text-anchor="middle">3</text>
<text x="596.88" y="275.50" font-size="6.8" fill="#595959" text-anchor="middle" textLength="10.60" lengthAdjust="spacingAndGlyphs">to 2</text>
<text x="608.52" y="266.70" font-size="6.8" fill="#595959" text-anchor="middle">2</text>
<text x="608.52" y="275.50" font-size="6.8" fill="#595959" text-anchor="middle" textLength="10.60" lengthAdjust="spacingAndGlyphs">to 1</text>
<text x="620.17" y="266.70" font-size="6.8" fill="#595959" text-anchor="middle">1</text>
<text x="620.17" y="275.50" font-size="6.8" fill="#595959" text-anchor="middle" textLength="10.60" lengthAdjust="spacingAndGlyphs">to 0</text>
<text x="631.82" y="266.70" font-size="6.8" fill="#595959" text-anchor="middle">0</text>
<text x="631.82" y="275.50" font-size="6.8" fill="#595959" text-anchor="middle" textLength="9.60" lengthAdjust="spacingAndGlyphs">to -</text>
<text x="631.82" y="283.60" font-size="6.8" fill="#595959" text-anchor="middle">1</text>
<text x="643.47" y="266.70" font-size="6.8" fill="#595959" text-anchor="middle">-1</text>
<text x="643.47" y="275.50" font-size="6.8" fill="#595959" text-anchor="middle" textLength="9.60" lengthAdjust="spacingAndGlyphs">to -</text>
<text x="643.47" y="283.60" font-size="6.8" fill="#595959" text-anchor="middle">2</text>
<text x="655.12" y="266.70" font-size="6.8" fill="#595959" text-anchor="middle">-2</text>
<text x="655.12" y="275.50" font-size="6.8" fill="#595959" text-anchor="middle" textLength="9.60" lengthAdjust="spacingAndGlyphs">to -</text>
<text x="655.12" y="283.60" font-size="6.8" fill="#595959" text-anchor="middle">3</text>
<text x="666.77" y="266.70" font-size="6.8" fill="#595959" text-anchor="middle">-3</text>
<text x="666.77" y="275.50" font-size="6.8" fill="#595959" text-anchor="middle" textLength="9.60" lengthAdjust="spacingAndGlyphs">to -</text>
<text x="666.77" y="283.60" font-size="6.8" fill="#595959" text-anchor="middle">4</text>
<text x="678.42" y="266.70" font-size="6.8" fill="#595959" text-anchor="middle">-4</text>
<text x="678.42" y="275.50" font-size="6.8" fill="#595959" text-anchor="middle" textLength="9.60" lengthAdjust="spacingAndGlyphs">to -</text>
<text x="678.42" y="283.60" font-size="6.8" fill="#595959" text-anchor="middle">5</text>
<text x="690.07" y="266.70" font-size="6.8" fill="#595959" text-anchor="middle">-5</text>
<text x="690.07" y="275.50" font-size="6.8" fill="#595959" text-anchor="middle" textLength="9.60" lengthAdjust="spacingAndGlyphs">to -</text>
<text x="690.07" y="283.60" font-size="6.8" fill="#595959" text-anchor="middle">6</text>
<text x="701.72" y="266.70" font-size="6.8" fill="#595959" text-anchor="middle">-6</text>
<text x="701.72" y="275.50" font-size="6.8" fill="#595959" text-anchor="middle" textLength="9.60" lengthAdjust="spacingAndGlyphs">to -</text>
<text x="701.72" y="283.60" font-size="6.8" fill="#595959" text-anchor="middle">7</text>
<text x="713.38" y="266.70" font-size="6.8" fill="#595959" text-anchor="middle">-7</text>
<text x="713.38" y="275.50" font-size="6.8" fill="#595959" text-anchor="middle" textLength="9.60" lengthAdjust="spacingAndGlyphs">to -</text>
<text x="713.38" y="283.60" font-size="6.8" fill="#595959" text-anchor="middle">8</text>
<text x="725.02" y="266.70" font-size="6.8" fill="#595959" text-anchor="middle">-8</text>
<text x="725.02" y="275.50" font-size="6.8" fill="#595959" text-anchor="middle" textLength="9.60" lengthAdjust="spacingAndGlyphs">to -</text>
<text x="725.02" y="283.60" font-size="6.8" fill="#595959" text-anchor="middle">9</text>
<text x="736.67" y="266.70" font-size="6.8" fill="#595959" text-anchor="middle">-9</text>
<text x="736.67" y="275.50" font-size="6.8" fill="#595959" text-anchor="middle" textLength="9.60" lengthAdjust="spacingAndGlyphs">to -</text>
<text x="736.67" y="283.60" font-size="6.8" fill="#595959" text-anchor="middle">10</text>
<text x="748.32" y="266.70" font-size="6.8" fill="#595959" text-anchor="middle">-10</text>
<text x="748.32" y="275.50" font-size="6.8" fill="#595959" text-anchor="middle" textLength="9.60" lengthAdjust="spacingAndGlyphs">to -</text>
<text x="748.32" y="283.60" font-size="6.8" fill="#595959" text-anchor="middle">11</text>
<text x="759.97" y="266.70" font-size="6.8" fill="#595959" text-anchor="middle">-11</text>
<text x="759.97" y="275.50" font-size="6.8" fill="#595959" text-anchor="middle" textLength="9.60" lengthAdjust="spacingAndGlyphs">to -</text>
<text x="759.97" y="283.60" font-size="6.8" fill="#595959" text-anchor="middle">12</text>
<rect x="686.00" y="186.00" width="82.00" height="24.00" fill="#fff"/>
<text x="691.20" y="195.80" font-size="7.0" fill="#222" font-style="italic" textLength="74.00" lengthAdjust="spacingAndGlyphs">x is Sporadic magnitudes</text>
<text x="691.20" y="204.90" font-size="7.0" fill="#222" font-style="italic" textLength="49.00" lengthAdjust="spacingAndGlyphs">as a comparison</text>
<text x="603.00" y="290.40" font-size="9.7" fill="#595959" textLength="97.60" lengthAdjust="spacingAndGlyphs">Sporadic Meteor Count</text>
<polyline points="536.10,369.12 585.90,344.93 767.42,360.50" fill="none" stroke="#d0d0d0" stroke-width="0.8"/>
<polyline points="534.90,351.95 585.80,331.05 768.55,344.40" fill="none" stroke="#d0d0d0" stroke-width="0.8"/>
<polyline points="533.70,334.78 585.70,317.18 769.67,328.30" fill="none" stroke="#d0d0d0" stroke-width="0.8"/>
<polyline points="532.50,317.60 585.60,303.30 770.80,312.20" fill="none" stroke="#d0d0d0" stroke-width="0.8"/>
<text x="531.70" y="389.60" font-size="7.0" fill="#595959" text-anchor="end">0</text>
<text x="530.50" y="372.43" font-size="7.0" fill="#595959" text-anchor="end">1</text>
<text x="529.30" y="355.25" font-size="7.0" fill="#595959" text-anchor="end">2</text>
<text x="528.10" y="338.08" font-size="7.0" fill="#595959" text-anchor="end">3</text>
<text x="526.90" y="320.90" font-size="7.0" fill="#595959" text-anchor="end">4</text>
<line x1="537.60" y1="386.10" x2="537.30" y2="387.90" stroke="#d9d9d9" stroke-width="0.6"/>
<line x1="543.73" y1="386.86" x2="543.43" y2="388.66" stroke="#d9d9d9" stroke-width="0.6"/>
<line x1="549.93" y1="387.63" x2="549.63" y2="389.43" stroke="#d9d9d9" stroke-width="0.6"/>
<line x1="556.20" y1="388.41" x2="555.90" y2="390.21" stroke="#d9d9d9" stroke-width="0.6"/>
<line x1="562.53" y1="389.20" x2="562.23" y2="391.00" stroke="#d9d9d9" stroke-width="0.6"/>
<line x1="568.93" y1="389.99" x2="568.63" y2="391.79" stroke="#d9d9d9" stroke-width="0.6"/>
<line x1="575.40" y1="390.80" x2="575.10" y2="392.60" stroke="#d9d9d9" stroke-width="0.6"/>
<line x1="581.94" y1="391.61" x2="581.64" y2="393.41" stroke="#d9d9d9" stroke-width="0.6"/>
<line x1="588.55" y1="392.43" x2="588.25" y2="394.23" stroke="#d9d9d9" stroke-width="0.6"/>
<line x1="595.23" y1="393.26" x2="594.93" y2="395.06" stroke="#d9d9d9" stroke-width="0.6"/>
<line x1="601.99" y1="394.10" x2="601.69" y2="395.90" stroke="#d9d9d9" stroke-width="0.6"/>
<line x1="608.83" y1="394.95" x2="608.53" y2="396.75" stroke="#d9d9d9" stroke-width="0.6"/>
<line x1="615.74" y1="395.81" x2="615.44" y2="397.61" stroke="#d9d9d9" stroke-width="0.6"/>
<line x1="622.73" y1="396.68" x2="622.43" y2="398.48" stroke="#d9d9d9" stroke-width="0.6"/>
<line x1="629.80" y1="397.56" x2="629.50" y2="399.36" stroke="#d9d9d9" stroke-width="0.6"/>
<line x1="636.95" y1="398.44" x2="636.65" y2="400.24" stroke="#d9d9d9" stroke-width="0.6"/>
<line x1="644.18" y1="399.34" x2="643.88" y2="401.14" stroke="#d9d9d9" stroke-width="0.6"/>
<line x1="651.49" y1="400.25" x2="651.19" y2="402.05" stroke="#d9d9d9" stroke-width="0.6"/>
<line x1="658.89" y1="401.17" x2="658.59" y2="402.97" stroke="#d9d9d9" stroke-width="0.6"/>
<line x1="666.38" y1="402.10" x2="666.08" y2="403.90" stroke="#d9d9d9" stroke-width="0.6"/>
<line x1="673.95" y1="403.04" x2="673.65" y2="404.84" stroke="#d9d9d9" stroke-width="0.6"/>
<line x1="681.62" y1="403.99" x2="681.32" y2="405.79" stroke="#d9d9d9" stroke-width="0.6"/>
<line x1="689.37" y1="404.96" x2="689.07" y2="406.76" stroke="#d9d9d9" stroke-width="0.6"/>
<line x1="697.22" y1="405.93" x2="696.92" y2="407.73" stroke="#d9d9d9" stroke-width="0.6"/>
<line x1="705.16" y1="406.92" x2="704.86" y2="408.72" stroke="#d9d9d9" stroke-width="0.6"/>
<line x1="713.20" y1="407.92" x2="712.90" y2="409.72" stroke="#d9d9d9" stroke-width="0.6"/>
<line x1="721.34" y1="408.93" x2="721.04" y2="410.73" stroke="#d9d9d9" stroke-width="0.6"/>
<line x1="729.57" y1="409.95" x2="729.27" y2="411.75" stroke="#d9d9d9" stroke-width="0.6"/>
<line x1="737.91" y1="410.99" x2="737.61" y2="412.79" stroke="#d9d9d9" stroke-width="0.6"/>
<line x1="746.35" y1="412.04" x2="746.05" y2="413.84" stroke="#d9d9d9" stroke-width="0.6"/>
<line x1="754.90" y1="413.10" x2="754.60" y2="414.90" stroke="#d9d9d9" stroke-width="0.6"/>
<text x="762.30" y="415.20" font-size="6.8" fill="#595959" text-anchor="middle">16</text>
<text x="766.20" y="404.20" font-size="6.8" fill="#595959" text-anchor="middle">20</text>
<text x="769.80" y="394.60" font-size="6.8" fill="#595959" text-anchor="middle">00</text>
<text x="773.20" y="385.00" font-size="6.8" fill="#595959" text-anchor="middle">04</text>
<polygon points="537.60,385.60 754.90,412.60 767.30,376.30 589.00,359.00" fill="#5693cc"/>
<polygon points="590.57,350.56 593.95,363.02 588.60,362.49" fill="#3c6c9f" stroke="#3c6c9f" stroke-width="0.3" stroke-linejoin="round"/>
<polygon points="590.57,350.56 590.57,350.56 590.57,350.56" fill="#9c5725" stroke="#9c5725" stroke-width="0.3" stroke-linejoin="round"/>
<polygon points="590.57,350.56 599.36,363.56 593.95,363.02" fill="#3c6c9f" stroke="#3c6c9f" stroke-width="0.3" stroke-linejoin="round"/>
<polygon points="590.57,350.56 590.57,350.56 590.57,350.56" fill="#9c5725" stroke="#9c5725" stroke-width="0.3" stroke-linejoin="round"/>
<polygon points="585.68,364.04 590.57,350.56 588.60,362.49" fill="#23436e" stroke="#23436e" stroke-width="0.3" stroke-linejoin="round"/>
<polygon points="590.57,350.56 590.57,350.56 590.57,350.56" fill="#5b3619" stroke="#5b3619" stroke-width="0.3" stroke-linejoin="round"/>
<polygon points="590.57,350.56 596.56,365.14 599.36,363.56" fill="#5fa1dc" stroke="#5fa1dc" stroke-width="0.3" stroke-linejoin="round"/>
<polygon points="590.57,350.56 590.57,350.56 590.57,350.56" fill="#f88233" stroke="#f88233" stroke-width="0.3" stroke-linejoin="round"/>
<polygon points="630.22,354.24 632.83,366.91 627.13,366.34" fill="#3c6c9f" stroke="#3c6c9f" stroke-width="0.3" stroke-linejoin="round"/>
<polygon points="630.22,354.24 630.22,354.24 630.22,354.24" fill="#9c5725" stroke="#9c5725" stroke-width="0.3" stroke-linejoin="round"/>
<polygon points="630.22,354.24 638.59,367.49 632.83,366.91" fill="#3c6c9f" stroke="#3c6c9f" stroke-width="0.3" stroke-linejoin="round"/>
<polygon points="630.22,354.24 630.22,354.24 630.22,354.24" fill="#9c5725" stroke="#9c5725" stroke-width="0.3" stroke-linejoin="round"/>
<polygon points="582.69,365.63 590.57,350.56 585.68,364.04" fill="#23436e" stroke="#23436e" stroke-width="0.3" stroke-linejoin="round"/>
<polygon points="590.57,350.56 590.57,350.56 590.57,350.56" fill="#5b3619" stroke="#5b3619" stroke-width="0.3" stroke-linejoin="round"/>
<polygon points="593.69,366.76 596.56,365.14 590.57,350.56" fill="#5fa1dc" stroke="#5fa1dc" stroke-width="0.3" stroke-linejoin="round"/>
<polygon points="590.57,350.56 590.57,350.56 590.57,350.56" fill="#f88233" stroke="#f88233" stroke-width="0.3" stroke-linejoin="round"/>
<polygon points="624.64,367.99 630.22,354.24 627.13,366.34" fill="#23436e" stroke="#23436e" stroke-width="0.3" stroke-linejoin="round"/>
<polygon points="630.22,354.24 630.22,354.24 630.22,354.24" fill="#5b3619" stroke="#5b3619" stroke-width="0.3" stroke-linejoin="round"/>
<polygon points="630.22,354.24 636.23,369.17 638.59,367.49" fill="#5fa1dc" stroke="#5fa1dc" stroke-width="0.3" stroke-linejoin="round"/>
<polygon points="630.22,354.24 630.22,354.24 630.22,354.24" fill="#f88233" stroke="#f88233" stroke-width="0.3" stroke-linejoin="round"/>
<polygon points="582.69,365.63 588.17,366.19 590.57,350.56" fill="#4479af" stroke="#4479af" stroke-width="0.3" stroke-linejoin="round"/>
<polygon points="590.57,350.56 590.57,350.56 590.57,350.56" fill="#b26128" stroke="#b26128" stroke-width="0.3" stroke-linejoin="round"/>
<polygon points="588.17,366.19 593.69,366.76 590.57,350.56" fill="#4479af" stroke="#4479af" stroke-width="0.3" stroke-linejoin="round"/>
<polygon points="590.57,350.56 590.57,350.56 590.57,350.56" fill="#b26128" stroke="#b26128" stroke-width="0.3" stroke-linejoin="round"/>
<polygon points="621.81,355.20 624.64,367.99 618.92,367.41" fill="#3c6c9f" stroke="#3c6c9f" stroke-width="0.3" stroke-linejoin="round"/>
<polygon points="621.81,355.20 621.81,355.20 621.81,355.20" fill="#9c5725" stroke="#9c5725" stroke-width="0.3" stroke-linejoin="round"/>
<polygon points="621.81,355.20 630.22,354.24 624.64,367.99" fill="#23446e" stroke="#23446e" stroke-width="0.3" stroke-linejoin="round"/>
<polygon points="621.81,355.20 630.22,354.24 630.22,354.24 621.81,355.20" fill="#5c3719" stroke="#5c3719" stroke-width="0.3" stroke-linejoin="round"/>
<polygon points="578.99,352.91 582.69,365.63 577.27,365.07" fill="#3c6c9f" stroke="#3c6c9f" stroke-width="0.3" stroke-linejoin="round"/>
<polygon points="578.99,352.91 578.99,352.91 578.99,352.91" fill="#9c5725" stroke="#9c5725" stroke-width="0.3" stroke-linejoin="round"/>
<polygon points="578.99,352.91 588.17,366.19 582.69,365.63" fill="#3c6c9f" stroke="#3c6c9f" stroke-width="0.3" stroke-linejoin="round"/>
<polygon points="578.99,352.91 578.99,352.91 578.99,352.91" fill="#9c5725" stroke="#9c5725" stroke-width="0.3" stroke-linejoin="round"/>
<polygon points="633.65,356.32 636.23,369.17 630.22,354.24" fill="#4f8ac2" stroke="#4f8ac2" stroke-width="0.3" stroke-linejoin="round"/>
<polygon points="633.65,356.32 633.65,356.32 630.22,354.24 630.22,354.24" fill="#cf6f2d" stroke="#cf6f2d" stroke-width="0.3" stroke-linejoin="round"/>
<polygon points="616.30,369.09 621.81,355.20 618.92,367.41" fill="#23436e" stroke="#23436e" stroke-width="0.3" stroke-linejoin="round"/>
<polygon points="621.81,355.20 621.81,355.20 621.81,355.20" fill="#5b3619" stroke="#5b3619" stroke-width="0.3" stroke-linejoin="round"/>
<polygon points="633.65,356.32 642.11,369.76 636.23,369.17" fill="#3c6c9f" stroke="#3c6c9f" stroke-width="0.3" stroke-linejoin="round"/>
<polygon points="633.65,356.32 633.65,356.32 633.65,356.32" fill="#9c5725" stroke="#9c5725" stroke-width="0.3" stroke-linejoin="round"/>
<polygon points="590.20,353.98 593.69,366.76 588.17,366.19" fill="#3c6c9f" stroke="#3c6c9f" stroke-width="0.3" stroke-linejoin="round"/>
<polygon points="590.20,353.98 590.20,353.98 590.20,353.98" fill="#9c5725" stroke="#9c5725" stroke-width="0.3" stroke-linejoin="round"/>
<polygon points="574.14,366.69 578.99,352.91 577.27,365.07" fill="#23436e" stroke="#23436e" stroke-width="0.3" stroke-linejoin="round"/>
<polygon points="578.99,352.91 578.99,352.91 578.99,352.91" fill="#5b3619" stroke="#5b3619" stroke-width="0.3" stroke-linejoin="round"/>
<polygon points="621.81,355.20 627.70,355.76 630.22,354.24" fill="#df772f" stroke="#df772f" stroke-width="0.3" stroke-linejoin="round"/>
<polygon points="590.20,353.98 599.26,367.34 593.69,366.76" fill="#3c6c9f" stroke="#3c6c9f" stroke-width="0.3" stroke-linejoin="round"/>
<polygon points="590.20,353.98 590.20,353.98 590.20,353.98" fill="#9c5725" stroke="#9c5725" stroke-width="0.3" stroke-linejoin="round"/>
<polygon points="627.70,355.76 633.65,356.32 630.22,354.24" fill="#df772f" stroke="#df772f" stroke-width="0.3" stroke-linejoin="round"/>
<polygon points="578.99,352.91 585.16,367.84 588.17,366.19" fill="#5fa1dc" stroke="#5fa1dc" stroke-width="0.3" stroke-linejoin="round"/>
<polygon points="578.99,352.91 578.99,352.91 578.99,352.91" fill="#f88233" stroke="#f88233" stroke-width="0.3" stroke-linejoin="round"/>
<polygon points="585.16,367.84 590.20,353.98 588.17,366.19" fill="#23436e" stroke="#23436e" stroke-width="0.3" stroke-linejoin="round"/>
<polygon points="590.20,353.98 590.20,353.98 590.20,353.98" fill="#5b3619" stroke="#5b3619" stroke-width="0.3" stroke-linejoin="round"/>
<polygon points="633.65,356.32 639.76,371.51 642.11,369.76" fill="#5fa1dc" stroke="#5fa1dc" stroke-width="0.3" stroke-linejoin="round"/>
<polygon points="633.65,356.32 633.65,356.32 633.65,356.32" fill="#f88233" stroke="#f88233" stroke-width="0.3" stroke-linejoin="round"/>
<polygon points="658.00,358.61 660.08,371.59 654.04,370.97" fill="#3c6c9f" stroke="#3c6c9f" stroke-width="0.3" stroke-linejoin="round"/>
<polygon points="658.00,358.61 658.00,358.61 658.00,358.61" fill="#9c5725" stroke="#9c5725" stroke-width="0.3" stroke-linejoin="round"/>
<polygon points="658.00,358.61 666.19,372.21 660.08,371.59" fill="#3c6c9f" stroke="#3c6c9f" stroke-width="0.3" stroke-linejoin="round"/>
<polygon points="658.00,358.61 658.00,358.61 658.00,358.61" fill="#9c5725" stroke="#9c5725" stroke-width="0.3" stroke-linejoin="round"/>
<polygon points="590.20,353.98 596.38,369.02 599.26,367.34" fill="#5fa1dc" stroke="#5fa1dc" stroke-width="0.3" stroke-linejoin="round"/>
<polygon points="590.20,353.98 590.20,353.98 590.20,353.98" fill="#f88233" stroke="#f88233" stroke-width="0.3" stroke-linejoin="round"/>
<polygon points="613.60,370.82 621.81,355.20 616.30,369.09" fill="#23436e" stroke="#23436e" stroke-width="0.3" stroke-linejoin="round"/>
<polygon points="621.81,355.20 621.81,355.20 621.81,355.20" fill="#5b3619" stroke="#5b3619" stroke-width="0.3" stroke-linejoin="round"/>
<polygon points="651.83,372.75 658.00,358.61 654.04,370.97" fill="#23436e" stroke="#23436e" stroke-width="0.3" stroke-linejoin="round"/>
<polygon points="658.00,358.61 658.00,358.61 658.00,358.61" fill="#5b3619" stroke="#5b3619" stroke-width="0.3" stroke-linejoin="round"/>
<polygon points="619.45,371.43 627.70,355.76 621.81,355.20" fill="#4479af" stroke="#4479af" stroke-width="0.3" stroke-linejoin="round"/>
<polygon points="627.70,355.76 627.70,355.76 621.81,355.20 621.81,355.20" fill="#b26128" stroke="#b26128" stroke-width="0.3" stroke-linejoin="round"/>
<polygon points="676.89,360.39 678.57,373.46 672.35,372.83" fill="#3c6c9f" stroke="#3c6c9f" stroke-width="0.3" stroke-linejoin="round"/>
<polygon points="676.89,360.39 676.89,360.39 676.89,360.39" fill="#9c5725" stroke="#9c5725" stroke-width="0.3" stroke-linejoin="round"/>
<polygon points="578.99,352.91 578.99,352.91 574.14,366.69 572.65,352.74" fill="#284b78" stroke="#284b78" stroke-width="0.3" stroke-linejoin="round"/>
<polygon points="575.41,338.82 578.99,352.91 578.99,352.91 572.65,352.74 571.14,338.71" fill="#673d1b" stroke="#673d1b" stroke-width="0.3" stroke-linejoin="round"/>
<polygon points="571.77,324.63 575.41,338.82 571.14,338.71 569.61,324.57" fill="#48505d" stroke="#48505d" stroke-width="0.3" stroke-linejoin="round"/>
<polygon points="568.05,310.35 571.77,324.63 569.61,324.57" fill="#6f5d00" stroke="#6f5d00" stroke-width="0.3" stroke-linejoin="round"/>
<polygon points="676.89,360.39 684.86,374.10 678.57,373.46" fill="#3c6c9f" stroke="#3c6c9f" stroke-width="0.3" stroke-linejoin="round"/>
<polygon points="676.89,360.39 676.89,360.39 676.89,360.39" fill="#9c5725" stroke="#9c5725" stroke-width="0.3" stroke-linejoin="round"/>
<polygon points="658.00,358.61 664.13,374.02 666.19,372.21" fill="#5fa1dc" stroke="#5fa1dc" stroke-width="0.3" stroke-linejoin="round"/>
<polygon points="658.00,358.61 658.00,358.61 658.00,358.61" fill="#f88233" stroke="#f88233" stroke-width="0.3" stroke-linejoin="round"/>
<polygon points="575.80,354.39 585.16,367.84 578.99,352.91" fill="#5fa1dc" stroke="#5fa1dc" stroke-width="0.3" stroke-linejoin="round"/>
<polygon points="575.80,354.39 575.80,354.39 578.99,352.91 578.99,352.91" fill="#f88233" stroke="#f88233" stroke-width="0.3" stroke-linejoin="round"/>
<polygon points="631.13,357.89 633.65,356.32 627.70,355.76" fill="#df772f" stroke="#df772f" stroke-width="0.3" stroke-linejoin="round"/>
<polygon points="613.60,370.82 619.45,371.43 621.81,355.20" fill="#4479af" stroke="#4479af" stroke-width="0.3" stroke-linejoin="round"/>
<polygon points="621.81,355.20 621.81,355.20 621.81,355.20" fill="#b26128" stroke="#b26128" stroke-width="0.3" stroke-linejoin="round"/>
<polygon points="582.06,369.54 590.20,353.98 585.16,367.84" fill="#23436e" stroke="#23436e" stroke-width="0.3" stroke-linejoin="round"/>
<polygon points="590.20,353.98 590.20,353.98 590.20,353.98" fill="#5b3619" stroke="#5b3619" stroke-width="0.3" stroke-linejoin="round"/>
<polygon points="637.21,358.47 639.76,371.51 633.65,356.32" fill="#4f8ac2" stroke="#4f8ac2" stroke-width="0.3" stroke-linejoin="round"/>
<polygon points="637.21,358.47 637.21,358.47 633.65,356.32 633.65,356.32" fill="#cf6f2d" stroke="#cf6f2d" stroke-width="0.3" stroke-linejoin="round"/>
<polygon points="670.37,374.66 676.89,360.39 672.35,372.83" fill="#23436e" stroke="#23436e" stroke-width="0.3" stroke-linejoin="round"/>
<polygon points="676.89,360.39 676.89,360.39 676.89,360.39" fill="#5b3619" stroke="#5b3619" stroke-width="0.3" stroke-linejoin="round"/>
<polygon points="637.21,358.47 645.77,372.13 639.76,371.51" fill="#3c6c9f" stroke="#3c6c9f" stroke-width="0.3" stroke-linejoin="round"/>
<polygon points="637.21,358.47 637.21,358.47 637.21,358.47" fill="#9c5725" stroke="#9c5725" stroke-width="0.3" stroke-linejoin="round"/>
<polygon points="619.45,371.43 625.36,372.05 627.70,355.76" fill="#4479af" stroke="#4479af" stroke-width="0.3" stroke-linejoin="round"/>
<polygon points="627.70,355.76 627.70,355.76 627.70,355.76" fill="#b26128" stroke="#b26128" stroke-width="0.3" stroke-linejoin="round"/>
<polygon points="573.24,339.68 575.80,354.39 578.99,352.91 575.41,338.82" fill="#e37830" stroke="#e37830" stroke-width="0.3" stroke-linejoin="round"/>
<polygon points="570.65,325.00 573.24,339.68 575.41,338.82 571.77,324.63" fill="#9e9fa0" stroke="#9e9fa0" stroke-width="0.3" stroke-linejoin="round"/>
<polygon points="568.05,310.35 570.65,325.00 571.77,324.63" fill="#f4b900" stroke="#f4b900" stroke-width="0.3" stroke-linejoin="round"/>
<polygon points="593.41,370.74 596.38,369.02 590.20,353.98" fill="#5fa1dc" stroke="#5fa1dc" stroke-width="0.3" stroke-linejoin="round"/>
<polygon points="590.20,353.98 590.20,353.98 590.20,353.98" fill="#f88233" stroke="#f88233" stroke-width="0.3" stroke-linejoin="round"/>
<polygon points="625.36,372.05 631.13,357.89 627.70,355.76" fill="#294d7a" stroke="#294d7a" stroke-width="0.3" stroke-linejoin="round"/>
<polygon points="631.13,357.89 631.13,357.89 627.70,355.76 627.70,355.76" fill="#6b3e1c" stroke="#6b3e1c" stroke-width="0.3" stroke-linejoin="round"/>
<polygon points="676.89,360.39 683.03,375.97 684.86,374.10" fill="#5fa1dc" stroke="#5fa1dc" stroke-width="0.3" stroke-linejoin="round"/>
<polygon points="676.89,360.39 676.89,360.39 676.89,360.39" fill="#f88233" stroke="#f88233" stroke-width="0.3" stroke-linejoin="round"/>
<polygon points="575.80,354.39 582.06,369.54 585.16,367.84" fill="#5fa1dc" stroke="#5fa1dc" stroke-width="0.3" stroke-linejoin="round"/>
<polygon points="575.80,354.39 575.80,354.39 575.80,354.39" fill="#f88233" stroke="#f88233" stroke-width="0.3" stroke-linejoin="round"/>
<polygon points="631.13,357.89 637.21,358.47 633.65,356.32" fill="#df772f" stroke="#df772f" stroke-width="0.3" stroke-linejoin="round"/>
<polygon points="649.56,374.58 658.00,358.61 651.83,372.75" fill="#23436e" stroke="#23436e" stroke-width="0.3" stroke-linejoin="round"/>
<polygon points="658.00,358.61 658.00,358.61 658.00,358.61" fill="#5b3619" stroke="#5b3619" stroke-width="0.3" stroke-linejoin="round"/>
<polygon points="582.06,369.54 587.71,370.14 590.20,353.98" fill="#4479af" stroke="#4479af" stroke-width="0.3" stroke-linejoin="round"/>
<polygon points="590.20,353.98 590.20,353.98 590.20,353.98" fill="#b26128" stroke="#b26128" stroke-width="0.3" stroke-linejoin="round"/>
<polygon points="716.40,364.11 717.20,377.38 710.60,376.71" fill="#3c6c9f" stroke="#3c6c9f" stroke-width="0.3" stroke-linejoin="round"/>
<polygon points="716.40,364.11 716.40,364.11 716.40,364.11" fill="#9c5725" stroke="#9c5725" stroke-width="0.3" stroke-linejoin="round"/>
<polygon points="587.71,370.14 593.41,370.74 590.20,353.98" fill="#4479af" stroke="#4479af" stroke-width="0.3" stroke-linejoin="round"/>
<polygon points="590.20,353.98 590.20,353.98 590.20,353.98" fill="#b26128" stroke="#b26128" stroke-width="0.3" stroke-linejoin="round"/>
<polygon points="637.21,358.47 643.42,373.94 645.77,372.13" fill="#5fa1dc" stroke="#5fa1dc" stroke-width="0.3" stroke-linejoin="round"/>
<polygon points="637.21,358.47 637.21,358.47 637.21,358.47" fill="#f88233" stroke="#f88233" stroke-width="0.3" stroke-linejoin="round"/>
<polygon points="662.01,375.89 664.13,374.02 658.00,358.61" fill="#5fa1dc" stroke="#5fa1dc" stroke-width="0.3" stroke-linejoin="round"/>
<polygon points="658.00,358.61 658.00,358.61 658.00,358.61" fill="#f88233" stroke="#f88233" stroke-width="0.3" stroke-linejoin="round"/>
<polygon points="716.40,364.11 723.86,378.06 717.20,377.38" fill="#3c6c9f" stroke="#3c6c9f" stroke-width="0.3" stroke-linejoin="round"/>
<polygon points="716.40,364.11 716.40,364.11 716.40,364.11" fill="#9c5725" stroke="#9c5725" stroke-width="0.3" stroke-linejoin="round"/>
<polygon points="723.21,364.75 730.59,378.74 723.86,378.06" fill="#3c6c9f" stroke="#3c6c9f" stroke-width="0.3" stroke-linejoin="round"/>
<polygon points="723.21,364.75 723.21,364.75 723.21,364.75" fill="#9c5725" stroke="#9c5725" stroke-width="0.3" stroke-linejoin="round"/>
<polygon points="668.33,376.55 676.89,360.39 670.37,374.66" fill="#23436e" stroke="#23436e" stroke-width="0.3" stroke-linejoin="round"/>
<polygon points="676.89,360.39 676.89,360.39 676.89,360.39" fill="#5b3619" stroke="#5b3619" stroke-width="0.3" stroke-linejoin="round"/>
<polygon points="649.56,374.58 655.75,375.23 658.00,358.61" fill="#4479af" stroke="#4479af" stroke-width="0.3" stroke-linejoin="round"/>
<polygon points="658.00,358.61 658.00,358.61 658.00,358.61" fill="#b26128" stroke="#b26128" stroke-width="0.3" stroke-linejoin="round"/>
<polygon points="709.12,378.66 716.40,364.11 710.60,376.71" fill="#23436e" stroke="#23436e" stroke-width="0.3" stroke-linejoin="round"/>
<polygon points="716.40,364.11 716.40,364.11 716.40,364.11" fill="#5b3619" stroke="#5b3619" stroke-width="0.3" stroke-linejoin="round"/>
<polygon points="655.75,375.23 662.01,375.89 658.00,358.61" fill="#4479af" stroke="#4479af" stroke-width="0.3" stroke-linejoin="round"/>
<polygon points="658.00,358.61 658.00,358.61 658.00,358.61" fill="#b26128" stroke="#b26128" stroke-width="0.3" stroke-linejoin="round"/>
<polygon points="573.23,370.66 575.80,354.39 575.80,354.39 571.93,355.39" fill="#5794ce" stroke="#5794ce" stroke-width="0.3" stroke-linejoin="round"/>
<polygon points="575.80,354.39 575.80,354.39 573.24,339.68 570.64,340.25 571.93,355.39" fill="#e1782f" stroke="#e1782f" stroke-width="0.3" stroke-linejoin="round"/>
<polygon points="573.24,339.68 570.65,325.00 569.34,325.24 570.64,340.25" fill="#9d9e9f" stroke="#9d9e9f" stroke-width="0.3" stroke-linejoin="round"/>
<polygon points="570.65,325.00 568.05,310.35 569.34,325.24" fill="#f3b800" stroke="#f3b800" stroke-width="0.3" stroke-linejoin="round"/>
<polygon points="622.73,373.86 631.13,357.89 625.36,372.05" fill="#23436e" stroke="#23436e" stroke-width="0.3" stroke-linejoin="round"/>
<polygon points="631.13,357.89 631.13,357.89 631.13,357.89" fill="#5b3619" stroke="#5b3619" stroke-width="0.3" stroke-linejoin="round"/>
<polygon points="681.42,362.70 683.03,375.97 676.89,360.39" fill="#4f8ac2" stroke="#4f8ac2" stroke-width="0.3" stroke-linejoin="round"/>
<polygon points="681.42,362.70 681.42,362.70 676.89,360.39 676.89,360.39" fill="#cf6f2d" stroke="#cf6f2d" stroke-width="0.3" stroke-linejoin="round"/>
<polygon points="716.40,364.11 723.21,364.75 723.86,378.06" fill="#3c6c9f" stroke="#3c6c9f" stroke-width="0.3" stroke-linejoin="round"/>
<polygon points="716.40,364.11 723.21,364.75 723.21,364.75 716.40,364.11" fill="#9c5725" stroke="#9c5725" stroke-width="0.3" stroke-linejoin="round"/>
<polygon points="578.89,371.27 582.06,369.54 575.80,354.39" fill="#5fa1dc" stroke="#5fa1dc" stroke-width="0.3" stroke-linejoin="round"/>
<polygon points="575.80,354.39 575.80,354.39 575.80,354.39" fill="#f88233" stroke="#f88233" stroke-width="0.3" stroke-linejoin="round"/>
<polygon points="681.42,362.70 689.46,376.63 683.03,375.97" fill="#3c6c9f" stroke="#3c6c9f" stroke-width="0.3" stroke-linejoin="round"/>
<polygon points="681.42,362.70 681.42,362.70 681.42,362.70" fill="#9c5725" stroke="#9c5725" stroke-width="0.3" stroke-linejoin="round"/>
<polygon points="628.55,359.51 637.21,358.47 631.13,357.89" fill="#df772f" stroke="#df772f" stroke-width="0.3" stroke-linejoin="round"/>
<polygon points="723.21,364.75 729.38,380.74 730.59,378.74" fill="#5fa1dc" stroke="#5fa1dc" stroke-width="0.3" stroke-linejoin="round"/>
<polygon points="723.21,364.75 723.21,364.75 723.21,364.75" fill="#f88233" stroke="#f88233" stroke-width="0.3" stroke-linejoin="round"/>
<polygon points="668.33,376.55 674.92,362.08 676.89,360.39" fill="#23436e" stroke="#23436e" stroke-width="0.3" stroke-linejoin="round"/>
<polygon points="674.92,362.08 674.92,362.08 676.89,360.39 676.89,360.39" fill="#5b3619" stroke="#5b3619" stroke-width="0.3" stroke-linejoin="round"/>
<polygon points="566.87,355.36 573.23,370.66 571.93,355.39 566.87,355.36" fill="#4478ae" stroke="#4478ae" stroke-width="0.3" stroke-linejoin="round"/>
<polygon points="566.87,355.36 566.87,355.36 571.93,355.39 570.64,340.25 567.25,340.22" fill="#b16128" stroke="#b16128" stroke-width="0.3" stroke-linejoin="round"/>
<polygon points="570.64,340.25 569.34,325.24 567.64,325.21 567.25,340.22" fill="#7b8087" stroke="#7b8087" stroke-width="0.3" stroke-linejoin="round"/>
<polygon points="569.34,325.24 568.05,310.35 567.64,325.21" fill="#be9500" stroke="#be9500" stroke-width="0.3" stroke-linejoin="round"/>
<polygon points="641.01,375.80 643.42,373.94 637.21,358.47" fill="#5fa1dc" stroke="#5fa1dc" stroke-width="0.3" stroke-linejoin="round"/>
<polygon points="637.21,358.47 637.21,358.47 637.21,358.47" fill="#f88233" stroke="#f88233" stroke-width="0.3" stroke-linejoin="round"/>
<polygon points="674.92,362.08 681.42,362.70 676.89,360.39" fill="#df772f" stroke="#df772f" stroke-width="0.3" stroke-linejoin="round"/>
<polygon points="573.23,370.66 578.89,371.27 575.80,354.39" fill="#4479af" stroke="#4479af" stroke-width="0.3" stroke-linejoin="round"/>
<polygon points="575.80,354.39 575.80,354.39 575.80,354.39" fill="#b26128" stroke="#b26128" stroke-width="0.3" stroke-linejoin="round"/>
<polygon points="622.73,373.86 628.55,359.51 631.13,357.89" fill="#23436e" stroke="#23436e" stroke-width="0.3" stroke-linejoin="round"/>
<polygon points="628.55,359.51 628.55,359.51 631.13,357.89 631.13,357.89" fill="#5b3619" stroke="#5b3619" stroke-width="0.3" stroke-linejoin="round"/>
<polygon points="681.42,362.70 687.66,378.57 689.46,376.63" fill="#5fa1dc" stroke="#5fa1dc" stroke-width="0.3" stroke-linejoin="round"/>
<polygon points="681.42,362.70 681.42,362.70 681.42,362.70" fill="#f88233" stroke="#f88233" stroke-width="0.3" stroke-linejoin="round"/>
<polygon points="628.55,359.51 634.85,375.15 637.21,358.47" fill="#5693cd" stroke="#5693cd" stroke-width="0.3" stroke-linejoin="round"/>
<polygon points="628.55,359.51 628.55,359.51 637.21,358.47 637.21,358.47" fill="#e0772f" stroke="#e0772f" stroke-width="0.3" stroke-linejoin="round"/>
<polygon points="707.59,380.66 716.40,364.11 709.12,378.66" fill="#23436e" stroke="#23436e" stroke-width="0.3" stroke-linejoin="round"/>
<polygon points="716.40,364.11 716.40,364.11 716.40,364.11" fill="#5b3619" stroke="#5b3619" stroke-width="0.3" stroke-linejoin="round"/>
<polygon points="634.85,375.15 641.01,375.80 637.21,358.47" fill="#4479af" stroke="#4479af" stroke-width="0.3" stroke-linejoin="round"/>
<polygon points="637.21,358.47 637.21,358.47 637.21,358.47" fill="#b26128" stroke="#b26128" stroke-width="0.3" stroke-linejoin="round"/>
<polygon points="714.36,381.36 723.21,364.75 716.40,364.11" fill="#4479af" stroke="#4479af" stroke-width="0.3" stroke-linejoin="round"/>
<polygon points="723.21,364.75 723.21,364.75 716.40,364.11 716.40,364.11" fill="#b26128" stroke="#b26128" stroke-width="0.3" stroke-linejoin="round"/>
<polygon points="666.23,378.48 674.92,362.08 668.33,376.55" fill="#23436e" stroke="#23436e" stroke-width="0.3" stroke-linejoin="round"/>
<polygon points="674.92,362.08 674.92,362.08 674.92,362.08" fill="#5b3619" stroke="#5b3619" stroke-width="0.3" stroke-linejoin="round"/>
<polygon points="728.13,382.80 729.38,380.74 723.21,364.75" fill="#5fa1dc" stroke="#5fa1dc" stroke-width="0.3" stroke-linejoin="round"/>
<polygon points="723.21,364.75 723.21,364.75 723.21,364.75" fill="#f88233" stroke="#f88233" stroke-width="0.3" stroke-linejoin="round"/>
<polygon points="707.59,380.66 714.36,381.36 716.40,364.11" fill="#4479af" stroke="#4479af" stroke-width="0.3" stroke-linejoin="round"/>
<polygon points="716.40,364.11 716.40,364.11 716.40,364.11" fill="#b26128" stroke="#b26128" stroke-width="0.3" stroke-linejoin="round"/>
<polygon points="569.90,372.44 573.23,370.66 566.87,355.36" fill="#5fa1dc" stroke="#5fa1dc" stroke-width="0.3" stroke-linejoin="round"/>
<polygon points="566.87,355.36 566.87,355.36 566.87,355.36" fill="#f88233" stroke="#f88233" stroke-width="0.3" stroke-linejoin="round"/>
<polygon points="620.02,375.72 628.55,359.51 622.73,373.86" fill="#23436e" stroke="#23436e" stroke-width="0.3" stroke-linejoin="round"/>
<polygon points="628.55,359.51 628.55,359.51 628.55,359.51" fill="#5b3619" stroke="#5b3619" stroke-width="0.3" stroke-linejoin="round"/>
<polygon points="679.48,364.45 681.42,362.70 674.92,362.08" fill="#df772f" stroke="#df772f" stroke-width="0.3" stroke-linejoin="round"/>
<polygon points="714.36,381.36 721.21,382.08 723.21,364.75" fill="#4479af" stroke="#4479af" stroke-width="0.3" stroke-linejoin="round"/>
<polygon points="723.21,364.75 723.21,364.75 723.21,364.75" fill="#b26128" stroke="#b26128" stroke-width="0.3" stroke-linejoin="round"/>
<polygon points="679.48,364.45 687.66,378.57 681.42,362.70" fill="#5fa1dc" stroke="#5fa1dc" stroke-width="0.3" stroke-linejoin="round"/>
<polygon points="679.48,364.45 679.48,364.45 681.42,362.70 681.42,362.70" fill="#f88233" stroke="#f88233" stroke-width="0.3" stroke-linejoin="round"/>
<polygon points="625.88,361.18 634.85,375.15 628.55,359.51" fill="#5fa1dc" stroke="#5fa1dc" stroke-width="0.3" stroke-linejoin="round"/>
<polygon points="625.88,361.18 625.88,361.18 628.55,359.51 628.55,359.51" fill="#f88233" stroke="#f88233" stroke-width="0.3" stroke-linejoin="round"/>
<polygon points="721.21,382.08 728.13,382.80 723.21,364.75" fill="#4479af" stroke="#4479af" stroke-width="0.3" stroke-linejoin="round"/>
<polygon points="723.21,364.75 723.21,364.75 723.21,364.75" fill="#b26128" stroke="#b26128" stroke-width="0.3" stroke-linejoin="round"/>
<polygon points="666.23,378.48 672.69,379.17 674.92,362.08" fill="#4479af" stroke="#4479af" stroke-width="0.3" stroke-linejoin="round"/>
<polygon points="674.92,362.08 674.92,362.08 674.92,362.08" fill="#b26128" stroke="#b26128" stroke-width="0.3" stroke-linejoin="round"/>
<polygon points="693.75,364.85 694.24,379.26 687.66,378.57 690.40,364.53" fill="#345f90" stroke="#345f90" stroke-width="0.3" stroke-linejoin="round"/>
<polygon points="693.25,350.22 693.75,364.85 690.40,364.53" fill="#874d21" stroke="#874d21" stroke-width="0.3" stroke-linejoin="round"/>
<polygon points="693.25,350.22 693.25,350.22 693.25,350.22" fill="#5e6570" stroke="#5e6570" stroke-width="0.3" stroke-linejoin="round"/>
<polygon points="564.24,371.81 569.90,372.44 566.87,355.36" fill="#4479af" stroke="#4479af" stroke-width="0.3" stroke-linejoin="round"/>
<polygon points="566.87,355.36 566.87,355.36 566.87,355.36" fill="#b26128" stroke="#b26128" stroke-width="0.3" stroke-linejoin="round"/>
<polygon points="672.69,379.17 679.48,364.45 674.92,362.08" fill="#294d7a" stroke="#294d7a" stroke-width="0.3" stroke-linejoin="round"/>
<polygon points="679.48,364.45 679.48,364.45 674.92,362.08 674.92,362.08" fill="#6b3e1c" stroke="#6b3e1c" stroke-width="0.3" stroke-linejoin="round"/>
<polygon points="697.12,365.17 700.88,379.95 694.24,379.26 693.75,364.85" fill="#345f90" stroke="#345f90" stroke-width="0.3" stroke-linejoin="round"/>
<polygon points="693.25,350.22 697.12,365.17 693.75,364.85" fill="#874d21" stroke="#874d21" stroke-width="0.3" stroke-linejoin="round"/>
<polygon points="693.25,350.22 693.25,350.22 693.25,350.22" fill="#5e6570" stroke="#5e6570" stroke-width="0.3" stroke-linejoin="round"/>
<polygon points="620.02,375.72 625.88,361.18 628.55,359.51" fill="#23436e" stroke="#23436e" stroke-width="0.3" stroke-linejoin="round"/>
<polygon points="625.88,361.18 625.88,361.18 628.55,359.51 628.55,359.51" fill="#5b3619" stroke="#5b3619" stroke-width="0.3" stroke-linejoin="round"/>
<polygon points="679.48,364.45 685.82,380.57 687.66,378.57" fill="#5fa1dc" stroke="#5fa1dc" stroke-width="0.3" stroke-linejoin="round"/>
<polygon points="679.48,364.45 679.48,364.45 679.48,364.45" fill="#f88233" stroke="#f88233" stroke-width="0.3" stroke-linejoin="round"/>
<polygon points="625.88,361.18 632.29,377.05 634.85,375.15" fill="#5fa1dc" stroke="#5fa1dc" stroke-width="0.3" stroke-linejoin="round"/>
<polygon points="625.88,361.18 625.88,361.18 625.88,361.18" fill="#f88233" stroke="#f88233" stroke-width="0.3" stroke-linejoin="round"/>
<polygon points="685.82,380.57 689.49,365.42 690.40,364.53 687.66,378.57" fill="#1a3358" stroke="#1a3358" stroke-width="0.3" stroke-linejoin="round"/>
<polygon points="689.49,365.42 693.25,350.22 690.40,364.53" fill="#432914" stroke="#432914" stroke-width="0.3" stroke-linejoin="round"/>
<polygon points="693.25,350.22 693.25,350.22 693.25,350.22" fill="#2e3744" stroke="#2e3744" stroke-width="0.3" stroke-linejoin="round"/>
<polygon points="714.21,366.82 714.36,381.36 707.59,380.66 710.76,366.48" fill="#345f90" stroke="#345f90" stroke-width="0.3" stroke-linejoin="round"/>
<polygon points="714.05,352.05 714.21,366.82 710.76,366.48" fill="#874d21" stroke="#874d21" stroke-width="0.3" stroke-linejoin="round"/>
<polygon points="714.05,352.05 714.05,352.05 714.05,352.05" fill="#5e6570" stroke="#5e6570" stroke-width="0.3" stroke-linejoin="round"/>
<polygon points="717.69,367.15 721.21,382.08 714.36,381.36 714.21,366.82" fill="#345f90" stroke="#345f90" stroke-width="0.3" stroke-linejoin="round"/>
<polygon points="714.05,352.05 717.69,367.15 714.21,366.82" fill="#874d21" stroke="#874d21" stroke-width="0.3" stroke-linejoin="round"/>
<polygon points="714.05,352.05 714.05,352.05 714.05,352.05" fill="#5e6570" stroke="#5e6570" stroke-width="0.3" stroke-linejoin="round"/>
<polygon points="696.25,366.08 699.21,381.99 700.88,379.95 697.12,365.17" fill="#5a99d3" stroke="#5a99d3" stroke-width="0.3" stroke-linejoin="round"/>
<polygon points="693.25,350.22 696.25,366.08 697.12,365.17" fill="#e97b30" stroke="#e97b30" stroke-width="0.3" stroke-linejoin="round"/>
<polygon points="693.25,350.22 693.25,350.22 693.25,350.22" fill="#a3a3a3" stroke="#a3a3a3" stroke-width="0.3" stroke-linejoin="round"/>
<polygon points="706.01,382.71 709.99,367.41 710.76,366.48 707.59,380.66" fill="#1a3358" stroke="#1a3358" stroke-width="0.3" stroke-linejoin="round"/>
<polygon points="709.99,367.41 714.05,352.05 710.76,366.48" fill="#432914" stroke="#432914" stroke-width="0.3" stroke-linejoin="round"/>
<polygon points="714.05,352.05 714.05,352.05 714.05,352.05" fill="#2e3744" stroke="#2e3744" stroke-width="0.3" stroke-linejoin="round"/>
<polygon points="670.62,381.19 679.48,364.45 672.69,379.17" fill="#23436e" stroke="#23436e" stroke-width="0.3" stroke-linejoin="round"/>
<polygon points="679.48,364.45 679.48,364.45 679.48,364.45" fill="#5b3619" stroke="#5b3619" stroke-width="0.3" stroke-linejoin="round"/>
<polygon points="617.24,377.63 625.88,361.18 620.02,375.72" fill="#23436e" stroke="#23436e" stroke-width="0.3" stroke-linejoin="round"/>
<polygon points="625.88,361.18 625.88,361.18 625.88,361.18" fill="#5b3619" stroke="#5b3619" stroke-width="0.3" stroke-linejoin="round"/>
<polygon points="716.96,368.09 719.82,384.18 721.21,382.08 717.69,367.15" fill="#5a99d3" stroke="#5a99d3" stroke-width="0.3" stroke-linejoin="round"/>
<polygon points="714.05,352.05 716.96,368.09 717.69,367.15" fill="#e97b30" stroke="#e97b30" stroke-width="0.3" stroke-linejoin="round"/>
<polygon points="714.05,352.05 714.05,352.05 714.05,352.05" fill="#a3a3a3" stroke="#a3a3a3" stroke-width="0.3" stroke-linejoin="round"/>
<polygon points="683.92,382.62 685.82,380.57 679.48,364.45" fill="#5fa1dc" stroke="#5fa1dc" stroke-width="0.3" stroke-linejoin="round"/>
<polygon points="679.48,364.45 679.48,364.45 679.48,364.45" fill="#f88233" stroke="#f88233" stroke-width="0.3" stroke-linejoin="round"/>
<polygon points="629.66,379.00 632.29,377.05 625.88,361.18" fill="#5fa1dc" stroke="#5fa1dc" stroke-width="0.3" stroke-linejoin="round"/>
<polygon points="625.88,361.18 625.88,361.18 625.88,361.18" fill="#f88233" stroke="#f88233" stroke-width="0.3" stroke-linejoin="round"/>
<polygon points="683.92,382.62 688.56,366.33 689.49,365.42 685.82,380.57" fill="#1a3358" stroke="#1a3358" stroke-width="0.3" stroke-linejoin="round"/>
<polygon points="688.56,366.33 693.25,350.22 689.49,365.42" fill="#432914" stroke="#432914" stroke-width="0.3" stroke-linejoin="round"/>
<polygon points="693.25,350.22 693.25,350.22 693.25,350.22" fill="#2e3744" stroke="#2e3744" stroke-width="0.3" stroke-linejoin="round"/>
<polygon points="670.62,381.19 677.23,381.90 679.48,364.45" fill="#4479af" stroke="#4479af" stroke-width="0.3" stroke-linejoin="round"/>
<polygon points="679.48,364.45 679.48,364.45 679.48,364.45" fill="#b26128" stroke="#b26128" stroke-width="0.3" stroke-linejoin="round"/>
<polygon points="697.49,384.09 699.21,381.99 696.25,366.08 695.37,367.00" fill="#5a99d3" stroke="#5a99d3" stroke-width="0.3" stroke-linejoin="round"/>
<polygon points="696.25,366.08 693.25,350.22 695.37,367.00" fill="#e97b30" stroke="#e97b30" stroke-width="0.3" stroke-linejoin="round"/>
<polygon points="693.25,350.22 693.25,350.22 693.25,350.22" fill="#a3a3a3" stroke="#a3a3a3" stroke-width="0.3" stroke-linejoin="round"/>
<polygon points="617.24,377.63 623.42,378.31 625.88,361.18" fill="#4479af" stroke="#4479af" stroke-width="0.3" stroke-linejoin="round"/>
<polygon points="625.88,361.18 625.88,361.18 625.88,361.18" fill="#b26128" stroke="#b26128" stroke-width="0.3" stroke-linejoin="round"/>
<polygon points="677.23,381.90 683.92,382.62 679.48,364.45" fill="#4479af" stroke="#4479af" stroke-width="0.3" stroke-linejoin="round"/>
<polygon points="679.48,364.45 679.48,364.45 679.48,364.45" fill="#b26128" stroke="#b26128" stroke-width="0.3" stroke-linejoin="round"/>
<polygon points="623.42,378.31 629.66,379.00 625.88,361.18" fill="#4479af" stroke="#4479af" stroke-width="0.3" stroke-linejoin="round"/>
<polygon points="625.88,361.18 625.88,361.18 625.88,361.18" fill="#b26128" stroke="#b26128" stroke-width="0.3" stroke-linejoin="round"/>
<polygon points="704.39,384.84 709.20,368.35 709.99,367.41 706.01,382.71" fill="#1a3358" stroke="#1a3358" stroke-width="0.3" stroke-linejoin="round"/>
<polygon points="709.20,368.35 714.05,352.05 709.99,367.41" fill="#432914" stroke="#432914" stroke-width="0.3" stroke-linejoin="round"/>
<polygon points="714.05,352.05 714.05,352.05 714.05,352.05" fill="#2e3744" stroke="#2e3744" stroke-width="0.3" stroke-linejoin="round"/>
<polygon points="683.92,382.62 690.67,383.35 691.96,366.66 688.56,366.33" fill="#3d6da1" stroke="#3d6da1" stroke-width="0.3" stroke-linejoin="round"/>
<polygon points="691.96,366.66 693.25,350.22 688.56,366.33" fill="#9e5825" stroke="#9e5825" stroke-width="0.3" stroke-linejoin="round"/>
<polygon points="693.25,350.22 693.25,350.22 693.25,350.22" fill="#6e747d" stroke="#6e747d" stroke-width="0.3" stroke-linejoin="round"/>
<polygon points="690.67,383.35 697.49,384.09 695.37,367.00 691.96,366.66" fill="#3d6da1" stroke="#3d6da1" stroke-width="0.3" stroke-linejoin="round"/>
<polygon points="695.37,367.00 693.25,350.22 691.96,366.66" fill="#9e5825" stroke="#9e5825" stroke-width="0.3" stroke-linejoin="round"/>
<polygon points="693.25,350.22 693.25,350.22 693.25,350.22" fill="#6e747d" stroke="#6e747d" stroke-width="0.3" stroke-linejoin="round"/>
<polygon points="719.04,370.35 719.82,384.18 716.96,368.09 719.04,370.35" fill="#538fc8" stroke="#538fc8" stroke-width="0.3" stroke-linejoin="round"/>
<polygon points="719.04,370.35 719.04,370.35 716.96,368.09 714.05,352.05" fill="#d8742e" stroke="#d8742e" stroke-width="0.3" stroke-linejoin="round"/>
<polygon points="714.05,352.05 714.05,352.05 714.05,352.05" fill="#97999b" stroke="#97999b" stroke-width="0.3" stroke-linejoin="round"/>
<polygon points="719.04,370.35 726.84,384.93 719.82,384.18" fill="#3c6c9f" stroke="#3c6c9f" stroke-width="0.3" stroke-linejoin="round"/>
<polygon points="719.04,370.35 719.04,370.35 719.04,370.35" fill="#9c5725" stroke="#9c5725" stroke-width="0.3" stroke-linejoin="round"/>
<polygon points="704.39,384.84 711.35,385.59 712.70,368.69 709.20,368.35" fill="#3d6da1" stroke="#3d6da1" stroke-width="0.3" stroke-linejoin="round"/>
<polygon points="712.70,368.69 714.05,352.05 709.20,368.35" fill="#9e5825" stroke="#9e5825" stroke-width="0.3" stroke-linejoin="round"/>
<polygon points="714.05,352.05 714.05,352.05 714.05,352.05" fill="#6e747d" stroke="#6e747d" stroke-width="0.3" stroke-linejoin="round"/>
<polygon points="675.41,368.12 677.23,381.90 670.62,381.19" fill="#3c6c9f" stroke="#3c6c9f" stroke-width="0.3" stroke-linejoin="round"/>
<polygon points="675.41,368.12 675.41,368.12 675.41,368.12" fill="#9c5725" stroke="#9c5725" stroke-width="0.3" stroke-linejoin="round"/>
<polygon points="711.35,385.59 719.04,370.35 719.04,370.35 712.70,368.69" fill="#2d5483" stroke="#2d5483" stroke-width="0.3" stroke-linejoin="round"/>
<polygon points="719.04,370.35 719.04,370.35 714.05,352.05 712.70,368.69" fill="#76441e" stroke="#76441e" stroke-width="0.3" stroke-linejoin="round"/>
<polygon points="714.05,352.05 714.05,352.05 714.05,352.05" fill="#525a65" stroke="#525a65" stroke-width="0.3" stroke-linejoin="round"/>
<polygon points="675.41,368.12 683.92,382.62 677.23,381.90" fill="#3c6c9f" stroke="#3c6c9f" stroke-width="0.3" stroke-linejoin="round"/>
<polygon points="675.41,368.12 675.41,368.12 675.41,368.12" fill="#9c5725" stroke="#9c5725" stroke-width="0.3" stroke-linejoin="round"/>
<polygon points="626.71,365.30 629.66,379.00 623.42,378.31" fill="#3c6c9f" stroke="#3c6c9f" stroke-width="0.3" stroke-linejoin="round"/>
<polygon points="626.71,365.30 626.71,365.30 626.71,365.30" fill="#9c5725" stroke="#9c5725" stroke-width="0.3" stroke-linejoin="round"/>
<polygon points="719.04,370.35 725.51,387.12 726.84,384.93" fill="#5fa1dc" stroke="#5fa1dc" stroke-width="0.3" stroke-linejoin="round"/>
<polygon points="719.04,370.35 719.04,370.35 719.04,370.35" fill="#f88233" stroke="#f88233" stroke-width="0.3" stroke-linejoin="round"/>
<polygon points="626.71,365.30 635.97,379.69 629.66,379.00" fill="#3c6c9f" stroke="#3c6c9f" stroke-width="0.3" stroke-linejoin="round"/>
<polygon points="626.71,365.30 626.71,365.30 626.71,365.30" fill="#9c5725" stroke="#9c5725" stroke-width="0.3" stroke-linejoin="round"/>
<polygon points="668.48,383.26 675.41,368.12 670.62,381.19" fill="#23436e" stroke="#23436e" stroke-width="0.3" stroke-linejoin="round"/>
<polygon points="675.41,368.12 675.41,368.12 675.41,368.12" fill="#5b3619" stroke="#5b3619" stroke-width="0.3" stroke-linejoin="round"/>
<polygon points="620.63,380.30 626.71,365.30 623.42,378.31" fill="#23436e" stroke="#23436e" stroke-width="0.3" stroke-linejoin="round"/>
<polygon points="626.71,365.30 626.71,365.30 626.71,365.30" fill="#5b3619" stroke="#5b3619" stroke-width="0.3" stroke-linejoin="round"/>
<polygon points="675.41,368.12 681.96,384.74 683.92,382.62" fill="#5fa1dc" stroke="#5fa1dc" stroke-width="0.3" stroke-linejoin="round"/>
<polygon points="675.41,368.12 675.41,368.12 675.41,368.12" fill="#f88233" stroke="#f88233" stroke-width="0.3" stroke-linejoin="round"/>
<polygon points="626.71,365.30 633.34,381.72 635.97,379.69" fill="#5fa1dc" stroke="#5fa1dc" stroke-width="0.3" stroke-linejoin="round"/>
<polygon points="626.71,365.30 626.71,365.30 626.71,365.30" fill="#f88233" stroke="#f88233" stroke-width="0.3" stroke-linejoin="round"/>
<polygon points="709.78,387.80 719.04,370.35 711.35,385.59" fill="#23436e" stroke="#23436e" stroke-width="0.3" stroke-linejoin="round"/>
<polygon points="719.04,370.35 719.04,370.35 719.04,370.35" fill="#5b3619" stroke="#5b3619" stroke-width="0.3" stroke-linejoin="round"/>
<polygon points="724.14,389.38 725.51,387.12 719.04,370.35" fill="#5fa1dc" stroke="#5fa1dc" stroke-width="0.3" stroke-linejoin="round"/>
<polygon points="719.04,370.35 719.04,370.35 719.04,370.35" fill="#f88233" stroke="#f88233" stroke-width="0.3" stroke-linejoin="round"/>
<polygon points="666.27,385.40 675.41,368.12 668.48,383.26" fill="#23436e" stroke="#23436e" stroke-width="0.3" stroke-linejoin="round"/>
<polygon points="675.41,368.12 675.41,368.12 675.41,368.12" fill="#5b3619" stroke="#5b3619" stroke-width="0.3" stroke-linejoin="round"/>
<polygon points="709.78,387.80 716.92,388.58 719.04,370.35" fill="#4479af" stroke="#4479af" stroke-width="0.3" stroke-linejoin="round"/>
<polygon points="719.04,370.35 719.04,370.35 719.04,370.35" fill="#b26128" stroke="#b26128" stroke-width="0.3" stroke-linejoin="round"/>
<polygon points="617.75,382.35 626.71,365.30 620.63,380.30" fill="#23436e" stroke="#23436e" stroke-width="0.3" stroke-linejoin="round"/>
<polygon points="626.71,365.30 626.71,365.30 626.71,365.30" fill="#5b3619" stroke="#5b3619" stroke-width="0.3" stroke-linejoin="round"/>
<polygon points="679.94,386.93 681.96,384.74 675.41,368.12" fill="#5fa1dc" stroke="#5fa1dc" stroke-width="0.3" stroke-linejoin="round"/>
<polygon points="675.41,368.12 675.41,368.12 675.41,368.12" fill="#f88233" stroke="#f88233" stroke-width="0.3" stroke-linejoin="round"/>
<polygon points="716.92,388.58 724.14,389.38 719.04,370.35" fill="#4479af" stroke="#4479af" stroke-width="0.3" stroke-linejoin="round"/>
<polygon points="719.04,370.35 719.04,370.35 719.04,370.35" fill="#b26128" stroke="#b26128" stroke-width="0.3" stroke-linejoin="round"/>
<polygon points="630.41,367.81 633.34,381.72 626.71,365.30" fill="#4f8ac2" stroke="#4f8ac2" stroke-width="0.3" stroke-linejoin="round"/>
<polygon points="630.41,367.81 630.41,367.81 626.71,365.30 626.71,365.30" fill="#cf6f2d" stroke="#cf6f2d" stroke-width="0.3" stroke-linejoin="round"/>
<polygon points="666.27,385.40 673.07,386.16 675.41,368.12" fill="#4479af" stroke="#4479af" stroke-width="0.3" stroke-linejoin="round"/>
<polygon points="675.41,368.12 675.41,368.12 675.41,368.12" fill="#b26128" stroke="#b26128" stroke-width="0.3" stroke-linejoin="round"/>
<polygon points="630.41,367.81 639.79,382.44 633.34,381.72" fill="#3c6c9f" stroke="#3c6c9f" stroke-width="0.3" stroke-linejoin="round"/>
<polygon points="630.41,367.81 630.41,367.81 630.41,367.81" fill="#9c5725" stroke="#9c5725" stroke-width="0.3" stroke-linejoin="round"/>
<polygon points="673.07,386.16 679.94,386.93 675.41,368.12" fill="#4479af" stroke="#4479af" stroke-width="0.3" stroke-linejoin="round"/>
<polygon points="675.41,368.12 675.41,368.12 675.41,368.12" fill="#b26128" stroke="#b26128" stroke-width="0.3" stroke-linejoin="round"/>
<polygon points="617.75,382.35 624.16,383.08 626.71,365.30" fill="#4479af" stroke="#4479af" stroke-width="0.3" stroke-linejoin="round"/>
<polygon points="626.71,365.30 626.71,365.30 626.71,365.30" fill="#b26128" stroke="#b26128" stroke-width="0.3" stroke-linejoin="round"/>
<polygon points="624.16,383.08 630.41,367.81 626.71,365.30" fill="#294d7a" stroke="#294d7a" stroke-width="0.3" stroke-linejoin="round"/>
<polygon points="630.41,367.81 630.41,367.81 626.71,365.30 626.71,365.30" fill="#6b3e1c" stroke="#6b3e1c" stroke-width="0.3" stroke-linejoin="round"/>
<polygon points="708.72,373.64 709.78,387.80 702.71,387.02" fill="#3c6c9f" stroke="#3c6c9f" stroke-width="0.3" stroke-linejoin="round"/>
<polygon points="708.72,373.64 708.72,373.64 708.72,373.64" fill="#9c5725" stroke="#9c5725" stroke-width="0.3" stroke-linejoin="round"/>
<polygon points="708.72,373.64 716.92,388.58 709.78,387.80" fill="#3c6c9f" stroke="#3c6c9f" stroke-width="0.3" stroke-linejoin="round"/>
<polygon points="708.72,373.64 708.72,373.64 708.72,373.64" fill="#9c5725" stroke="#9c5725" stroke-width="0.3" stroke-linejoin="round"/>
<polygon points="630.41,367.81 637.16,384.56 639.79,382.44" fill="#5fa1dc" stroke="#5fa1dc" stroke-width="0.3" stroke-linejoin="round"/>
<polygon points="630.41,367.81 630.41,367.81 630.41,367.81" fill="#f88233" stroke="#f88233" stroke-width="0.3" stroke-linejoin="round"/>
<polygon points="700.99,389.28 708.72,373.64 702.71,387.02" fill="#23436e" stroke="#23436e" stroke-width="0.3" stroke-linejoin="round"/>
<polygon points="708.72,373.64 708.72,373.64 708.72,373.64" fill="#5b3619" stroke="#5b3619" stroke-width="0.3" stroke-linejoin="round"/>
<polygon points="708.72,373.64 715.40,390.89 716.92,388.58" fill="#5fa1dc" stroke="#5fa1dc" stroke-width="0.3" stroke-linejoin="round"/>
<polygon points="708.72,373.64 708.72,373.64 708.72,373.64" fill="#f88233" stroke="#f88233" stroke-width="0.3" stroke-linejoin="round"/>
<polygon points="621.28,385.22 630.41,367.81 624.16,383.08" fill="#23436e" stroke="#23436e" stroke-width="0.3" stroke-linejoin="round"/>
<polygon points="630.41,367.81 630.41,367.81 630.41,367.81" fill="#5b3619" stroke="#5b3619" stroke-width="0.3" stroke-linejoin="round"/>
<polygon points="634.45,386.74 637.16,384.56 630.41,367.81" fill="#5fa1dc" stroke="#5fa1dc" stroke-width="0.3" stroke-linejoin="round"/>
<polygon points="630.41,367.81 630.41,367.81 630.41,367.81" fill="#f88233" stroke="#f88233" stroke-width="0.3" stroke-linejoin="round"/>
<polygon points="699.21,391.61 708.72,373.64 700.99,389.28" fill="#23436e" stroke="#23436e" stroke-width="0.3" stroke-linejoin="round"/>
<polygon points="708.72,373.64 708.72,373.64 708.72,373.64" fill="#5b3619" stroke="#5b3619" stroke-width="0.3" stroke-linejoin="round"/>
<polygon points="621.28,385.22 627.83,385.97 630.41,367.81" fill="#4479af" stroke="#4479af" stroke-width="0.3" stroke-linejoin="round"/>
<polygon points="630.41,367.81 630.41,367.81 630.41,367.81" fill="#b26128" stroke="#b26128" stroke-width="0.3" stroke-linejoin="round"/>
<polygon points="627.83,385.97 634.45,386.74 630.41,367.81" fill="#4479af" stroke="#4479af" stroke-width="0.3" stroke-linejoin="round"/>
<polygon points="630.41,367.81 630.41,367.81 630.41,367.81" fill="#b26128" stroke="#b26128" stroke-width="0.3" stroke-linejoin="round"/>
<polygon points="713.83,393.27 715.40,390.89 708.72,373.64" fill="#5fa1dc" stroke="#5fa1dc" stroke-width="0.3" stroke-linejoin="round"/>
<polygon points="708.72,373.64 708.72,373.64 708.72,373.64" fill="#f88233" stroke="#f88233" stroke-width="0.3" stroke-linejoin="round"/>
<polygon points="699.21,391.61 706.48,392.43 708.72,373.64" fill="#4479af" stroke="#4479af" stroke-width="0.3" stroke-linejoin="round"/>
<polygon points="708.72,373.64 708.72,373.64 708.72,373.64" fill="#b26128" stroke="#b26128" stroke-width="0.3" stroke-linejoin="round"/>
<polygon points="706.48,392.43 713.83,393.27 708.72,373.64" fill="#4479af" stroke="#4479af" stroke-width="0.3" stroke-linejoin="round"/>
<polygon points="708.72,373.64 708.72,373.64 708.72,373.64" fill="#b26128" stroke="#b26128" stroke-width="0.3" stroke-linejoin="round"/>
<polygon points="617.97,370.98 621.28,385.22 614.79,384.47" fill="#3c6c9f" stroke="#3c6c9f" stroke-width="0.3" stroke-linejoin="round"/>
<polygon points="617.97,370.98 617.97,370.98 617.97,370.98" fill="#9c5725" stroke="#9c5725" stroke-width="0.3" stroke-linejoin="round"/>
<polygon points="617.97,370.98 627.83,385.97 621.28,385.22" fill="#3c6c9f" stroke="#3c6c9f" stroke-width="0.3" stroke-linejoin="round"/>
<polygon points="617.97,370.98 617.97,370.98 617.97,370.98" fill="#9c5725" stroke="#9c5725" stroke-width="0.3" stroke-linejoin="round"/>
<polygon points="611.74,386.65 617.97,370.98 614.79,384.47" fill="#23436e" stroke="#23436e" stroke-width="0.3" stroke-linejoin="round"/>
<polygon points="617.97,370.98 617.97,370.98 617.97,370.98" fill="#5b3619" stroke="#5b3619" stroke-width="0.3" stroke-linejoin="round"/>
<polygon points="697.83,377.10 699.21,391.61 692.01,390.79" fill="#3c6c9f" stroke="#3c6c9f" stroke-width="0.3" stroke-linejoin="round"/>
<polygon points="697.83,377.10 697.83,377.10 697.83,377.10" fill="#9c5725" stroke="#9c5725" stroke-width="0.3" stroke-linejoin="round"/>
<polygon points="697.83,377.10 706.48,392.43 699.21,391.61" fill="#3c6c9f" stroke="#3c6c9f" stroke-width="0.3" stroke-linejoin="round"/>
<polygon points="697.83,377.10 697.83,377.10 697.83,377.10" fill="#9c5725" stroke="#9c5725" stroke-width="0.3" stroke-linejoin="round"/>
<polygon points="617.97,370.98 624.95,388.20 627.83,385.97" fill="#5fa1dc" stroke="#5fa1dc" stroke-width="0.3" stroke-linejoin="round"/>
<polygon points="617.97,370.98 617.97,370.98 617.97,370.98" fill="#f88233" stroke="#f88233" stroke-width="0.3" stroke-linejoin="round"/>
<polygon points="690.07,393.17 697.83,377.10 692.01,390.79" fill="#23436e" stroke="#23436e" stroke-width="0.3" stroke-linejoin="round"/>
<polygon points="697.83,377.10 697.83,377.10 697.83,377.10" fill="#5b3619" stroke="#5b3619" stroke-width="0.3" stroke-linejoin="round"/>
<polygon points="697.83,377.10 704.75,394.86 706.48,392.43" fill="#5fa1dc" stroke="#5fa1dc" stroke-width="0.3" stroke-linejoin="round"/>
<polygon points="697.83,377.10 697.83,377.10 697.83,377.10" fill="#f88233" stroke="#f88233" stroke-width="0.3" stroke-linejoin="round"/>
<polygon points="608.59,388.89 617.97,370.98 611.74,386.65" fill="#23436e" stroke="#23436e" stroke-width="0.3" stroke-linejoin="round"/>
<polygon points="617.97,370.98 617.97,370.98 617.97,370.98" fill="#5b3619" stroke="#5b3619" stroke-width="0.3" stroke-linejoin="round"/>
<polygon points="743.89,381.94 744.08,396.71 736.39,395.83" fill="#3c6c9f" stroke="#3c6c9f" stroke-width="0.3" stroke-linejoin="round"/>
<polygon points="743.89,381.94 743.89,381.94 743.89,381.94" fill="#9c5725" stroke="#9c5725" stroke-width="0.3" stroke-linejoin="round"/>
<polygon points="743.89,381.94 751.86,397.59 744.08,396.71" fill="#3c6c9f" stroke="#3c6c9f" stroke-width="0.3" stroke-linejoin="round"/>
<polygon points="743.89,381.94 743.89,381.94 743.89,381.94" fill="#9c5725" stroke="#9c5725" stroke-width="0.3" stroke-linejoin="round"/>
<polygon points="621.98,390.49 624.95,388.20 617.97,370.98" fill="#5fa1dc" stroke="#5fa1dc" stroke-width="0.3" stroke-linejoin="round"/>
<polygon points="617.97,370.98 617.97,370.98 617.97,370.98" fill="#f88233" stroke="#f88233" stroke-width="0.3" stroke-linejoin="round"/>
<polygon points="688.06,395.62 697.83,377.10 690.07,393.17" fill="#23436e" stroke="#23436e" stroke-width="0.3" stroke-linejoin="round"/>
<polygon points="697.83,377.10 697.83,377.10 697.83,377.10" fill="#5b3619" stroke="#5b3619" stroke-width="0.3" stroke-linejoin="round"/>
<polygon points="608.59,388.89 615.25,389.69 617.97,370.98" fill="#4479af" stroke="#4479af" stroke-width="0.3" stroke-linejoin="round"/>
<polygon points="617.97,370.98 617.97,370.98 617.97,370.98" fill="#b26128" stroke="#b26128" stroke-width="0.3" stroke-linejoin="round"/>
<polygon points="735.12,398.38 743.89,381.94 736.39,395.83" fill="#23436e" stroke="#23436e" stroke-width="0.3" stroke-linejoin="round"/>
<polygon points="743.89,381.94 743.89,381.94 743.89,381.94" fill="#5b3619" stroke="#5b3619" stroke-width="0.3" stroke-linejoin="round"/>
<polygon points="615.25,389.69 621.98,390.49 617.97,370.98" fill="#4479af" stroke="#4479af" stroke-width="0.3" stroke-linejoin="round"/>
<polygon points="617.97,370.98 617.97,370.98 617.97,370.98" fill="#b26128" stroke="#b26128" stroke-width="0.3" stroke-linejoin="round"/>
<polygon points="702.96,397.38 704.75,394.86 697.83,377.10" fill="#5fa1dc" stroke="#5fa1dc" stroke-width="0.3" stroke-linejoin="round"/>
<polygon points="697.83,377.10 697.83,377.10 697.83,377.10" fill="#f88233" stroke="#f88233" stroke-width="0.3" stroke-linejoin="round"/>
<polygon points="743.89,381.94 750.83,400.19 751.86,397.59" fill="#5fa1dc" stroke="#5fa1dc" stroke-width="0.3" stroke-linejoin="round"/>
<polygon points="743.89,381.94 743.89,381.94 743.89,381.94" fill="#f88233" stroke="#f88233" stroke-width="0.3" stroke-linejoin="round"/>
<polygon points="688.06,395.62 695.47,396.49 697.83,377.10" fill="#4479af" stroke="#4479af" stroke-width="0.3" stroke-linejoin="round"/>
<polygon points="697.83,377.10 697.83,377.10 697.83,377.10" fill="#b26128" stroke="#b26128" stroke-width="0.3" stroke-linejoin="round"/>
<polygon points="695.47,396.49 702.96,397.38 697.83,377.10" fill="#4479af" stroke="#4479af" stroke-width="0.3" stroke-linejoin="round"/>
<polygon points="697.83,377.10 697.83,377.10 697.83,377.10" fill="#b26128" stroke="#b26128" stroke-width="0.3" stroke-linejoin="round"/>
<polygon points="733.80,401.00 743.89,381.94 735.12,398.38" fill="#23436e" stroke="#23436e" stroke-width="0.3" stroke-linejoin="round"/>
<polygon points="743.89,381.94 743.89,381.94 743.89,381.94" fill="#5b3619" stroke="#5b3619" stroke-width="0.3" stroke-linejoin="round"/>
<polygon points="749.77,402.88 750.83,400.19 743.89,381.94" fill="#5fa1dc" stroke="#5fa1dc" stroke-width="0.3" stroke-linejoin="round"/>
<polygon points="743.89,381.94 743.89,381.94 743.89,381.94" fill="#f88233" stroke="#f88233" stroke-width="0.3" stroke-linejoin="round"/>
<polygon points="733.80,401.00 741.74,401.94 743.89,381.94" fill="#4479af" stroke="#4479af" stroke-width="0.3" stroke-linejoin="round"/>
<polygon points="743.89,381.94 743.89,381.94 743.89,381.94" fill="#b26128" stroke="#b26128" stroke-width="0.3" stroke-linejoin="round"/>
<polygon points="741.74,401.94 749.77,402.88 743.89,381.94" fill="#4479af" stroke="#4479af" stroke-width="0.3" stroke-linejoin="round"/>
<polygon points="743.89,381.94 743.89,381.94 743.89,381.94" fill="#b26128" stroke="#b26128" stroke-width="0.3" stroke-linejoin="round"/>
<rect x="541.50" y="409.40" width="3.30" height="3.30" fill="#5b9bd5"/>
<text x="546.60" y="413.60" font-size="7.4" fill="#595959" textLength="8.90" lengthAdjust="spacingAndGlyphs">0-1</text>
<rect x="560.40" y="409.40" width="3.30" height="3.30" fill="#ed7d31"/>
<text x="565.50" y="413.60" font-size="7.4" fill="#595959" textLength="8.90" lengthAdjust="spacingAndGlyphs">1-2</text>
<rect x="580.00" y="409.40" width="3.30" height="3.30" fill="#a5a5a5"/>
<text x="585.10" y="413.60" font-size="7.4" fill="#595959" textLength="8.90" lengthAdjust="spacingAndGlyphs">2-3</text>
<rect x="598.50" y="409.40" width="3.30" height="3.30" fill="#ffc000"/>
<text x="603.60" y="413.60" font-size="7.4" fill="#595959" textLength="8.90" lengthAdjust="spacingAndGlyphs">3-4</text>
</svg>
</body></html>
